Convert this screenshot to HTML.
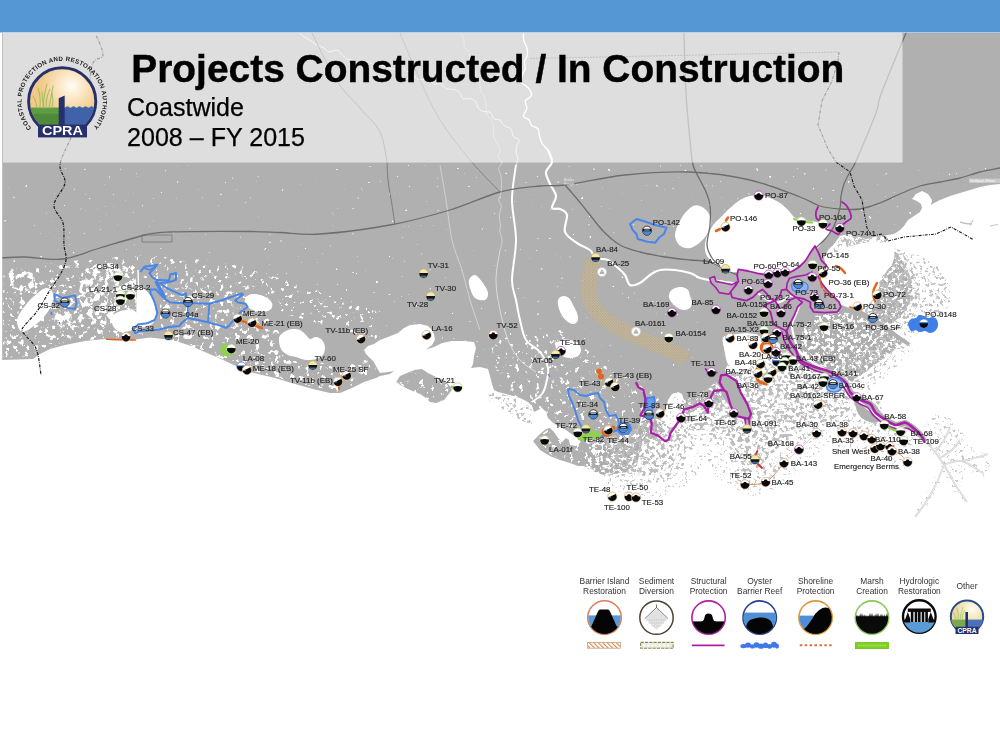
<!DOCTYPE html>
<html><head><meta charset="utf-8">
<style>
html,body{margin:0;padding:0;background:#fff;}
body{width:1000px;height:750px;position:relative;overflow:hidden;font-family:"Liberation Sans",sans-serif;}
#hdr{position:absolute;left:0;top:0;width:1000px;height:32.4px;background:#5596d5;}
#map{position:absolute;left:0;top:0;width:1000px;height:750px;}
text{font-family:"Liberation Sans",sans-serif;}
.lb{font-size:7.9px;fill:#222;stroke:#222;stroke-width:0.15px;}
.lg{font-size:8.4px;fill:#333;text-anchor:middle;}
</style></head><body>
<div id="hdr"></div>
<svg id="map" width="1000" height="750" viewBox="0 0 1000 750">
<defs>
<clipPath id="mapclip"><rect x="2.2" y="33" width="998" height="530"/></clipPath>
<filter id="mDense" x="0" y="0" width="1000" height="750" filterUnits="userSpaceOnUse" color-interpolation-filters="sRGB">
  <feTurbulence type="fractalNoise" baseFrequency="0.26" numOctaves="3" seed="7" result="n"/>
  <feColorMatrix in="n" type="matrix" values="0 0 0 0 0.74  0 0 0 0 0.74  0 0 0 0 0.74  10 0 0 0 -4.85" result="s"/><feGaussianBlur stdDeviation="0.5" result="s2"/>
  <feComposite in="s2" in2="SourceGraphic" operator="in"/>
</filter>
<filter id="mVD" x="0" y="0" width="1000" height="750" filterUnits="userSpaceOnUse" color-interpolation-filters="sRGB">
  <feTurbulence type="fractalNoise" baseFrequency="0.26" numOctaves="3" seed="31" result="n"/>
  <feColorMatrix in="n" type="matrix" values="0 0 0 0 0.68  0 0 0 0 0.68  0 0 0 0 0.68  10 0 0 0 -4.050000000000001" result="s"/><feGaussianBlur stdDeviation="0.35" result="s2"/>
  <feComposite in="s2" in2="SourceGraphic" operator="in"/>
</filter>
<filter id="mMed" x="0" y="0" width="1000" height="750" filterUnits="userSpaceOnUse" color-interpolation-filters="sRGB">
  <feTurbulence type="fractalNoise" baseFrequency="0.3" numOctaves="3" seed="11" result="n"/>
  <feColorMatrix in="n" type="matrix" values="0 0 0 0 0.76  0 0 0 0 0.76  0 0 0 0 0.76  10 0 0 0 -5.550000000000001" result="s"/><feGaussianBlur stdDeviation="0.5" result="s2"/>
  <feComposite in="s2" in2="SourceGraphic" operator="in"/>
</filter>
<filter id="mSparse" x="0" y="0" width="1000" height="750" filterUnits="userSpaceOnUse" color-interpolation-filters="sRGB">
  <feTurbulence type="fractalNoise" baseFrequency="0.34" numOctaves="3" seed="23" result="n"/>
  <feColorMatrix in="n" type="matrix" values="0 0 0 0 0.78  0 0 0 0 0.78  0 0 0 0 0.78  10 0 0 0 -6.25" result="s"/><feGaussianBlur stdDeviation="0.4" result="s2"/>
  <feComposite in="s2" in2="SourceGraphic" operator="in"/>
</filter>
<filter id="wSpeck" x="0" y="0" width="1000" height="750" filterUnits="userSpaceOnUse" color-interpolation-filters="sRGB">
  <feTurbulence type="fractalNoise" baseFrequency="0.25" numOctaves="3" seed="5" result="n"/>
  <feColorMatrix in="n" type="matrix" values="0 0 0 0 1  0 0 0 0 1  0 0 0 0 1  12 0 0 0 -9.36" result="s"/>
  <feComposite in="s" in2="SourceGraphic" operator="in"/>
</filter>
<filter id="wSpeck2" x="0" y="0" width="1000" height="750" filterUnits="userSpaceOnUse" color-interpolation-filters="sRGB">
  <feTurbulence type="fractalNoise" baseFrequency="0.2" numOctaves="3" seed="9" result="n"/>
  <feColorMatrix in="n" type="matrix" values="0 0 0 0 1  0 0 0 0 1  0 0 0 0 1  12 0 0 0 -7.5600000000000005" result="s"/>
  <feComposite in="s" in2="SourceGraphic" operator="in"/>
</filter>
<filter id="wSpeck3" x="0" y="0" width="1000" height="750" filterUnits="userSpaceOnUse" color-interpolation-filters="sRGB">
  <feTurbulence type="fractalNoise" baseFrequency="0.2" numOctaves="3" seed="13" result="n"/>
  <feColorMatrix in="n" type="matrix" values="0 0 0 0 1  0 0 0 0 1  0 0 0 0 1  12 0 0 0 -7.02" result="s"/>
  <feComposite in="s" in2="SourceGraphic" operator="in"/>
</filter>
<filter id="wSpeck4" x="0" y="0" width="1000" height="750" filterUnits="userSpaceOnUse" color-interpolation-filters="sRGB">
  <feTurbulence type="fractalNoise" baseFrequency="0.14" numOctaves="3" seed="17" result="n"/>
  <feColorMatrix in="n" type="matrix" values="0 0 0 0 1  0 0 0 0 1  0 0 0 0 1  12 0 0 0 -6.0" result="s"/>
  <feComposite in="s" in2="SourceGraphic" operator="in"/>
</filter>
</defs>
<rect x="0" y="0" width="1000" height="32.5" fill="#5596d5"/>
<g clip-path="url(#mapclip)">
<g filter="url(#mVD)"><path d="M801.0,318.0 L830.0,311.0 L856.0,310.0 L872.0,319.0 L890.0,330.0 L904.0,340.0 L890.0,354.0 L870.0,368.0 L852.0,382.0 L840.0,377.0 L828.0,370.0 L815.0,364.0 L803.0,350.0 L800.0,340.0Z" fill="#000" />
<path d="M872.0,256.0 L884.0,248.0 L896.0,252.0 L906.0,266.0 L912.0,282.0 L912.0,298.0 L904.0,312.0 L892.0,324.0 L880.0,322.0 L870.0,314.0 L876.0,300.0 L880.0,284.0 L886.0,272.0 L880.0,262.0Z" fill="#000" />
<path d="M584.0,440.0 L600.0,438.0 L620.0,432.0 L640.0,422.0 L650.0,418.0 L660.0,422.0 L664.0,432.0 L650.0,442.0 L630.0,448.0 L612.0,452.0 L606.0,446.0 L592.0,444.0Z" fill="#000" />
<path d="M684.0,400.0 L700.0,394.0 L716.0,384.0 L724.0,400.0 L712.0,408.0 L698.0,410.0 L686.0,414.0Z" fill="#000" />
<path d="M578.0,440.0 L600.0,438.0 L628.0,436.0 L642.0,444.0 L638.0,460.0 L626.0,472.0 L606.0,476.0 L590.0,470.0 L584.0,466.0 L588.0,456.0Z" fill="#000" />
</g>
<g filter="url(#mDense)"><path d="M584.0,440.0 L600.0,438.0 L620.0,432.0 L640.0,422.0 L646.0,410.0 L660.0,420.0 L672.0,424.0 L684.0,420.0 L684.0,400.0 L716.0,382.0 L722.0,396.0 L734.0,414.0 L748.0,426.0 L750.0,440.0 L752.0,456.0 L752.0,472.0 L750.0,484.0 L744.0,486.0 L741.0,470.0 L737.0,452.0 L728.0,440.0 L716.0,432.0 L700.0,430.0 L688.0,436.0 L680.0,446.0 L676.0,458.0 L670.0,468.0 L658.0,474.0 L644.0,476.0 L630.0,474.0 L618.0,468.0 L612.0,460.0 L612.0,452.0 L606.0,446.0 L592.0,444.0Z" fill="#000" />
<path d="M722.0,338.0 L760.0,334.0 L794.0,354.0 L830.0,380.0 L850.0,394.0 L850.0,410.0 L830.0,420.0 L810.0,426.0 L796.0,434.0 L780.0,446.0 L766.0,460.0 L756.0,470.0 L752.0,440.0 L752.0,418.0 L740.0,394.0 L728.0,370.0 L726.0,350.0Z" fill="#000" />
<path d="M852.0,398.0 L880.0,400.0 L884.0,420.0 L870.0,424.0 L858.0,414.0Z" fill="#000" />
<path d="M872.0,252.0 L886.0,246.0 L900.0,250.0 L910.0,264.0 L918.0,282.0 L920.0,300.0 L912.0,318.0 L898.0,330.0 L884.0,328.0 L872.0,320.0 L864.0,312.0 L872.0,300.0 L878.0,284.0 L884.0,272.0 L880.0,260.0Z" fill="#000" />
<path d="M840.0,238.0 L850.0,234.0 L866.0,239.0 L880.0,236.0 L892.0,235.0 L884.0,244.0 L872.0,250.0 L858.0,250.0 L846.0,246.0Z" fill="#000" />
</g>
<g filter="url(#mMed)"><path d="M488.0,392.0 L506.0,395.0 L524.0,402.0 L534.0,412.0 L532.0,424.0 L518.0,420.0 L502.0,410.0 L490.0,402.0Z" fill="#000" />
<path d="M606.0,446.0 L616.0,468.0 L640.0,478.0 L664.0,474.0 L676.0,458.0 L690.0,436.0 L716.0,432.0 L736.0,452.0 L742.0,486.0 L750.0,488.0 L756.0,470.0 L790.0,444.0 L812.0,426.0 L850.0,410.0 L864.0,402.0 L880.0,424.0 L900.0,430.0 L916.0,440.0 L906.0,450.0 L890.0,440.0 L870.0,436.0 L850.0,430.0 L830.0,428.0 L812.0,436.0 L798.0,450.0 L784.0,464.0 L766.0,482.0 L748.0,490.0 L738.0,482.0 L730.0,460.0 L718.0,444.0 L700.0,440.0 L690.0,452.0 L684.0,468.0 L670.0,480.0 L650.0,486.0 L630.0,486.0 L612.0,476.0 L604.0,462.0Z" fill="#000" />
<path d="M830.0,246.0 L840.0,240.0 L856.0,238.0 L870.0,244.0 L866.0,254.0 L852.0,262.0 L840.0,268.0 L830.0,264.0 L826.0,256.0Z" fill="#000" />
<path d="M900.0,250.0 L920.0,256.0 L940.0,268.0 L950.0,286.0 L950.0,304.0 L940.0,318.0 L924.0,330.0 L908.0,338.0 L898.0,330.0 L912.0,318.0 L920.0,300.0 L918.0,282.0 L910.0,264.0Z" fill="#000" />
<path d="M832.0,370.0 L850.0,358.0 L870.0,345.0 L890.0,330.0 L900.0,336.0 L908.0,344.0 L896.0,356.0 L880.0,370.0 L866.0,384.0 L858.0,392.0 L850.0,386.0 L840.0,378.0Z" fill="#000" />
</g>
<g filter="url(#mSparse)"><path d="M900.0,336.0 L912.0,342.0 L914.0,350.0 L900.0,364.0 L884.0,378.0 L870.0,392.0 L862.0,400.0 L858.0,392.0 L866.0,384.0 L880.0,370.0 L896.0,356.0 L908.0,344.0Z" fill="#000" />
<path d="M926.0,424.0 L936.0,414.0 L950.0,418.0 L962.0,430.0 L968.0,446.0 L984.0,452.0 L990.0,464.0 L984.0,478.0 L968.0,472.0 L962.0,480.0 L968.0,500.0 L960.0,502.0 L950.0,484.0 L944.0,474.0 L936.0,494.0 L920.0,516.0 L914.0,514.0 L928.0,490.0 L938.0,470.0 L930.0,452.0 L924.0,440.0Z" fill="#000" />
<path d="M730.0,470.0 L748.0,490.0 L766.0,482.0 L790.0,462.0 L810.0,440.0 L830.0,430.0 L860.0,436.0 L880.0,444.0 L900.0,456.0 L912.0,466.0 L900.0,470.0 L880.0,460.0 L850.0,448.0 L830.0,446.0 L812.0,456.0 L794.0,474.0 L774.0,490.0 L752.0,496.0 L736.0,490.0Z" fill="#000" />
<path d="M600.0,462.0 L612.0,478.0 L632.0,490.0 L656.0,490.0 L676.0,482.0 L690.0,466.0 L700.0,444.0 L716.0,444.0 L728.0,462.0 L736.0,486.0 L720.0,480.0 L706.0,462.0 L694.0,478.0 L680.0,490.0 L656.0,498.0 L630.0,498.0 L608.0,486.0Z" fill="#000" />
<path d="M656.0,394.0 L666.0,392.0 L678.0,392.0 L684.0,400.0 L684.0,420.0 L672.0,424.0 L660.0,420.0 L664.0,408.0Z" fill="#000" />
</g>
<path d="M2.0,33.0 L1000.0,33.0 L1000.0,184.0 L990.0,185.0 L980.0,187.0 L970.0,190.0 L960.0,193.0 L950.0,196.0 L940.0,200.0 L934.0,203.0 L931.0,205.0 L932.0,200.0 L928.0,194.0 L922.0,191.0 L916.0,194.0 L912.0,199.0 L917.0,201.0 L921.0,204.0 L922.0,208.0 L920.0,212.0 L914.0,216.0 L908.0,220.0 L904.0,226.0 L900.0,230.0 L894.0,234.0 L888.0,235.0 L880.0,236.0 L874.0,237.0 L866.0,239.0 L856.0,236.0 L848.0,234.0 L840.0,236.0 L834.0,244.0 L828.0,250.0 L824.0,258.0 L826.0,266.0 L824.0,272.0 L820.0,278.0 L822.0,286.0 L826.0,292.0 L832.0,298.0 L840.0,303.0 L848.0,306.0 L856.0,308.0 L866.0,313.0 L876.0,319.0 L888.0,327.0 L900.0,336.0 L910.0,343.0 L908.0,346.0 L896.0,338.0 L884.0,330.0 L872.0,323.0 L860.0,316.0 L848.0,313.0 L838.0,312.0 L826.0,313.0 L815.0,316.0 L808.0,322.0 L803.0,330.0 L801.0,340.0 L803.0,350.0 L802.4,357.8 L813.9,363.5 L826.5,367.2 L837.0,372.5 L847.7,380.6 L852.8,390.6 L862.0,397.4 L872.4,401.7 L877.7,410.6 L887.2,417.4 L896.0,422.0 L906.1,419.7 L914.9,425.4 L923.0,433.1 L927.0,440.0 L921.4,443.2 L918.0,437.2 L910.8,430.4 L905.1,426.2 L895.1,428.5 L883.8,423.0 L873.0,415.1 L868.2,406.7 L858.8,403.0 L847.9,394.9 L842.7,384.9 L833.5,378.0 L824.1,373.3 L811.5,369.6 L797.9,362.5 L794.0,355.0 L786.0,350.0 L780.0,344.0 L772.0,340.0 L764.0,336.0 L756.0,334.0 L746.0,333.0 L736.0,334.0 L726.0,336.0 L722.0,338.0 L724.0,348.0 L726.0,358.0 L728.0,364.0 L725.0,370.0 L730.0,378.0 L735.0,386.0 L740.0,394.0 L746.0,402.0 L750.0,410.0 L752.0,418.0 L750.0,426.0 L745.0,421.0 L738.0,414.0 L732.0,408.0 L726.0,402.0 L722.0,396.0 L720.0,388.0 L716.0,382.0 L708.0,388.0 L700.0,394.0 L692.0,398.0 L684.0,400.0 L682.0,394.0 L678.0,392.0 L672.0,394.0 L668.0,400.0 L666.0,408.0 L664.0,416.0 L660.0,420.0 L654.0,418.0 L648.0,414.0 L644.0,408.0 L640.0,406.0 L642.0,414.0 L640.0,422.0 L634.0,427.0 L628.0,430.0 L620.0,433.0 L612.0,436.0 L600.0,438.0 L590.0,440.0 L582.0,440.0 L576.0,437.0 L570.0,433.0 L566.0,430.0 L558.0,426.0 L552.0,422.0 L548.0,418.0 L546.0,412.0 L542.0,408.0 L538.0,410.0 L534.0,412.0 L532.0,406.0 L528.0,402.0 L520.0,398.0 L506.0,394.0 L498.0,392.0 L494.0,390.0 L492.0,384.0 L490.0,376.0 L488.0,369.0 L480.0,367.0 L471.0,368.0 L473.0,364.0 L474.0,356.0 L476.0,348.0 L474.0,342.0 L464.0,341.0 L452.0,341.0 L442.0,343.0 L434.0,347.0 L426.0,349.6 L432.0,345.0 L435.0,340.0 L434.0,334.0 L432.0,330.0 L428.0,326.0 L420.0,324.0 L410.0,325.0 L404.0,328.0 L398.0,333.0 L388.0,337.0 L380.0,340.0 L374.0,344.0 L368.0,346.0 L364.0,350.0 L366.0,354.0 L370.0,358.0 L374.0,362.0 L377.0,368.0 L380.0,373.0 L388.0,372.0 L394.0,371.0 L390.0,374.0 L380.0,376.0 L376.0,378.0 L364.0,382.0 L352.0,388.0 L340.0,393.0 L330.0,393.0 L313.0,389.0 L295.0,384.0 L275.0,378.0 L250.0,372.0 L236.0,366.0 L221.0,359.0 L206.0,352.6 L191.0,346.0 L176.0,341.0 L163.0,339.0 L150.0,337.6 L135.0,339.6 L105.0,339.0 L85.0,341.0 L65.0,345.0 L50.0,349.0 L40.0,354.0 L33.0,359.0 L2.0,360.0Z" fill="#b0b0b0" />
<path d="M396.0,382.0 L400.0,376.0 L414.0,370.0 L422.0,369.0 L428.0,373.0 L436.0,377.0 L444.0,380.0 L450.0,386.0 L452.0,390.0 L448.0,395.0 L444.0,400.0 L436.0,403.0 L430.0,402.0 L426.0,398.0 L420.0,394.0 L410.0,390.0 L402.0,386.0Z" fill="#b0b0b0" />
<path d="M533.0,441.0 L540.0,434.0 L546.0,429.0 L550.0,428.0 L554.0,432.0 L558.0,438.0 L562.0,442.0 L566.0,438.0 L569.0,440.0 L570.0,445.0 L576.0,446.0 L580.0,443.0 L584.0,441.0 L588.0,444.0 L590.0,450.0 L588.0,456.0 L586.0,462.0 L584.0,466.0 L578.0,466.0 L570.0,463.0 L560.0,460.0 L550.0,456.0 L540.0,450.0Z" fill="#b0b0b0" />
<path d="M856.0,402.0 C857.2,400.0 861.3,399.0 864.0,399.0 C866.7,399.0 869.7,400.5 872.0,402.0 C874.3,403.5 876.5,405.7 878.0,408.0 C879.5,410.3 881.0,413.7 881.0,416.0 C881.0,418.3 879.8,421.0 878.0,422.0 C876.2,423.0 872.7,422.7 870.0,422.0 C867.3,421.3 864.2,419.8 862.0,418.0 C859.8,416.2 858.0,413.7 857.0,411.0 C856.0,408.3 854.8,404.0 856.0,402.0Z" fill="#b0b0b0" />
<path d="M469.0,280.0 C469.8,277.8 472.7,274.5 475.0,275.0 C477.3,275.5 480.8,280.0 483.0,283.0 C485.2,286.0 487.7,290.2 488.0,293.0 C488.3,295.8 487.2,299.2 485.0,300.0 C482.8,300.8 477.5,300.0 475.0,298.0 C472.5,296.0 471.0,291.0 470.0,288.0 C469.0,285.0 468.2,282.2 469.0,280.0Z" fill="#fff" />
<path d="M706.0,254.0 C704.8,251.0 704.7,247.3 705.0,244.0 C705.3,240.7 706.5,237.3 708.0,234.0 C709.5,230.7 711.7,227.0 714.0,224.0 C716.3,221.0 719.3,218.7 722.0,216.0 C724.7,213.3 727.0,210.7 730.0,208.0 C733.0,205.3 736.7,202.0 740.0,200.0 C743.3,198.0 746.7,196.8 750.0,196.0 C753.3,195.2 756.7,194.7 760.0,195.0 C763.3,195.3 766.7,196.7 770.0,198.0 C773.3,199.3 777.0,201.0 780.0,203.0 C783.0,205.0 785.7,207.7 788.0,210.0 C790.3,212.3 792.0,215.3 794.0,217.0 C796.0,218.7 797.3,219.3 800.0,220.0 C802.7,220.7 806.7,220.5 810.0,221.0 C813.3,221.5 817.0,221.8 820.0,223.0 C823.0,224.2 826.3,226.3 828.0,228.0 C829.7,229.7 830.7,231.0 830.0,233.0 C829.3,235.0 826.0,237.5 824.0,240.0 C822.0,242.5 820.0,245.7 818.0,248.0 C816.0,250.3 814.3,251.7 812.0,254.0 C809.7,256.3 806.7,259.7 804.0,262.0 C801.3,264.3 798.7,266.3 796.0,268.0 C793.3,269.7 790.7,271.0 788.0,272.0 C785.3,273.0 783.3,273.5 780.0,274.0 C776.7,274.5 772.0,275.2 768.0,275.0 C764.0,274.8 760.0,273.7 756.0,273.0 C752.0,272.3 747.3,271.2 744.0,271.0 C740.7,270.8 738.7,271.8 736.0,272.0 C733.3,272.2 730.7,272.7 728.0,272.0 C725.3,271.3 722.7,269.7 720.0,268.0 C717.3,266.3 714.3,264.3 712.0,262.0 C709.7,259.7 707.2,257.0 706.0,254.0Z" fill="#fff" />
<path d="M675.0,234.0 C675.3,230.8 677.3,226.5 679.0,223.0 C680.7,219.5 682.7,215.8 685.0,213.0 C687.3,210.2 690.5,207.2 693.0,206.0 C695.5,204.8 697.7,205.2 700.0,206.0 C702.3,206.8 705.2,208.8 707.0,211.0 C708.8,213.2 710.5,216.2 711.0,219.0 C711.5,221.8 711.0,225.0 710.0,228.0 C709.0,231.0 707.0,234.3 705.0,237.0 C703.0,239.7 700.5,242.2 698.0,244.0 C695.5,245.8 692.7,247.5 690.0,248.0 C687.3,248.5 684.2,248.0 682.0,247.0 C679.8,246.0 678.2,244.2 677.0,242.0 C675.8,239.8 674.7,237.2 675.0,234.0Z" fill="#fff" />
<path d="M138.0,287.0 C139.2,285.2 142.0,287.7 144.0,289.0 C146.0,290.3 148.3,292.7 150.0,295.0 C151.7,297.3 153.0,300.0 154.0,303.0 C155.0,306.0 156.0,309.8 156.0,313.0 C156.0,316.2 155.3,319.8 154.0,322.0 C152.7,324.2 150.2,325.2 148.0,326.0 C145.8,326.8 142.8,327.8 141.0,327.0 C139.2,326.2 137.8,325.5 137.0,321.0 C136.2,316.5 136.3,305.7 136.5,300.0 C136.7,294.3 136.8,288.8 138.0,287.0Z" fill="#fff" />
<path d="M116.0,313.0 C118.3,311.7 122.7,310.2 126.0,310.0 C129.3,309.8 133.8,310.0 136.0,312.0 C138.2,314.0 139.7,319.0 139.0,322.0 C138.3,325.0 135.2,328.3 132.0,330.0 C128.8,331.7 123.2,332.7 120.0,332.0 C116.8,331.3 114.3,328.3 113.0,326.0 C111.7,323.7 111.5,320.2 112.0,318.0 C112.5,315.8 113.7,314.3 116.0,313.0Z" fill="#fff" />
<path d="M19.0,329.0 C18.0,327.0 16.5,323.2 17.0,320.0 C17.5,316.8 19.8,313.3 22.0,310.0 C24.2,306.7 27.2,303.0 30.0,300.0 C32.8,297.0 36.3,294.0 39.0,292.0 C41.7,290.0 43.8,288.2 46.0,288.0 C48.2,287.8 50.8,289.0 52.0,291.0 C53.2,293.0 53.5,296.8 53.0,300.0 C52.5,303.2 51.0,306.7 49.0,310.0 C47.0,313.3 44.0,317.0 41.0,320.0 C38.0,323.0 34.0,326.0 31.0,328.0 C28.0,330.0 25.0,331.8 23.0,332.0 C21.0,332.2 20.0,331.0 19.0,329.0Z" fill="#fff" />
<path d="M246.0,297.0 C247.2,295.5 249.7,294.3 252.0,294.0 C254.3,293.7 257.5,294.3 260.0,295.0 C262.5,295.7 265.0,296.7 267.0,298.0 C269.0,299.3 271.3,301.2 272.0,303.0 C272.7,304.8 272.3,307.5 271.0,309.0 C269.7,310.5 266.5,311.7 264.0,312.0 C261.5,312.3 258.5,311.7 256.0,311.0 C253.5,310.3 250.8,309.3 249.0,308.0 C247.2,306.7 245.5,304.8 245.0,303.0 C244.5,301.2 244.8,298.5 246.0,297.0Z" fill="#fff" />
<path d="M279.0,338.0 C279.5,335.2 281.8,333.5 284.0,332.0 C286.2,330.5 289.3,329.3 292.0,329.0 C294.7,328.7 297.7,329.0 300.0,330.0 C302.3,331.0 304.3,333.5 306.0,335.0 C307.7,336.5 308.3,338.7 310.0,339.0 C311.7,339.3 314.0,336.8 316.0,337.0 C318.0,337.2 320.5,338.3 322.0,340.0 C323.5,341.7 324.8,344.5 325.0,347.0 C325.2,349.5 324.5,353.0 323.0,355.0 C321.5,357.0 318.8,358.2 316.0,359.0 C313.2,359.8 309.3,360.3 306.0,360.0 C302.7,359.7 299.0,357.8 296.0,357.0 C293.0,356.2 290.5,356.3 288.0,355.0 C285.5,353.7 282.5,351.8 281.0,349.0 C279.5,346.2 278.5,340.8 279.0,338.0Z" fill="#fff" />
<path d="M723.0,338.0 C723.8,335.3 727.2,336.3 730.0,336.0 C732.8,335.7 736.7,335.7 740.0,336.0 C743.3,336.3 747.0,337.0 750.0,338.0 C753.0,339.0 756.0,340.0 758.0,342.0 C760.0,344.0 761.7,347.3 762.0,350.0 C762.3,352.7 761.0,355.7 760.0,358.0 C759.0,360.3 758.0,362.3 756.0,364.0 C754.0,365.7 750.7,367.0 748.0,368.0 C745.3,369.0 742.7,370.0 740.0,370.0 C737.3,370.0 734.2,369.3 732.0,368.0 C729.8,366.7 728.2,364.7 727.0,362.0 C725.8,359.3 725.7,356.0 725.0,352.0 C724.3,348.0 722.2,340.7 723.0,338.0Z" fill="#fff" />
<path d="M670.0,292.0 C671.0,290.3 673.0,288.8 675.0,288.0 C677.0,287.2 679.8,286.7 682.0,287.0 C684.2,287.3 686.7,288.5 688.0,290.0 C689.3,291.5 689.3,294.0 690.0,296.0 C690.7,298.0 692.0,300.0 692.0,302.0 C692.0,304.0 691.3,306.7 690.0,308.0 C688.7,309.3 686.0,310.0 684.0,310.0 C682.0,310.0 679.8,309.0 678.0,308.0 C676.2,307.0 674.5,305.7 673.0,304.0 C671.5,302.3 669.5,300.0 669.0,298.0 C668.5,296.0 669.0,293.7 670.0,292.0Z" fill="#fff" />
<path d="M558.0,300.0 C558.7,297.8 561.2,296.3 563.0,296.0 C564.8,295.7 567.3,296.5 569.0,298.0 C570.7,299.5 571.7,302.5 573.0,305.0 C574.3,307.5 576.2,310.5 577.0,313.0 C577.8,315.5 578.5,318.2 578.0,320.0 C577.5,321.8 575.7,323.7 574.0,324.0 C572.3,324.3 569.8,323.2 568.0,322.0 C566.2,320.8 564.5,319.2 563.0,317.0 C561.5,314.8 559.8,311.8 559.0,309.0 C558.2,306.2 557.3,302.2 558.0,300.0Z" fill="#fff" />
<path d="M556.0,344.0 C556.8,342.2 559.7,340.7 562.0,340.0 C564.3,339.3 567.3,339.5 570.0,340.0 C572.7,340.5 576.2,341.3 578.0,343.0 C579.8,344.7 581.0,347.8 581.0,350.0 C581.0,352.2 579.8,354.7 578.0,356.0 C576.2,357.3 572.7,358.0 570.0,358.0 C567.3,358.0 564.2,357.2 562.0,356.0 C559.8,354.8 558.0,353.0 557.0,351.0 C556.0,349.0 555.2,345.8 556.0,344.0Z" fill="#fff" />
<path d="M826.0,262.0 C828.0,259.3 830.7,256.3 834.0,254.0 C837.3,251.7 842.0,249.7 846.0,248.0 C850.0,246.3 853.7,245.0 858.0,244.0 C862.3,243.0 867.3,242.0 872.0,242.0 C876.7,242.0 882.3,242.3 886.0,244.0 C889.7,245.7 893.0,248.7 894.0,252.0 C895.0,255.3 893.7,260.3 892.0,264.0 C890.3,267.7 886.3,270.7 884.0,274.0 C881.7,277.3 879.3,280.7 878.0,284.0 C876.7,287.3 877.3,291.0 876.0,294.0 C874.7,297.0 872.3,299.7 870.0,302.0 C867.7,304.3 865.3,307.0 862.0,308.0 C858.7,309.0 853.7,308.7 850.0,308.0 C846.3,307.3 843.3,305.7 840.0,304.0 C836.7,302.3 832.7,300.3 830.0,298.0 C827.3,295.7 825.7,293.0 824.0,290.0 C822.3,287.0 820.3,283.3 820.0,280.0 C819.7,276.7 821.0,273.0 822.0,270.0 C823.0,267.0 824.0,264.7 826.0,262.0Z" fill="#fff" />
<path d="M138.0,270.0 L138.5,288.0" fill="none" stroke="#fff" stroke-width="1.4" />
<g filter="url(#wSpeck4)"><path d="M8.0,272.0 L20.0,268.0 L34.0,274.0 L36.0,286.0 L24.0,292.0 L12.0,288.0Z" fill="#000" />
<path d="M84.0,268.0 L100.0,262.0 L120.0,264.0 L136.0,272.0 L136.0,310.0 L116.0,312.0 L110.0,326.0 L96.0,322.0 L84.0,312.0 L78.0,296.0Z" fill="#000" />
<path d="M56.0,306.0 L74.0,302.0 L84.0,312.0 L80.0,326.0 L64.0,330.0 L54.0,322.0Z" fill="#000" />
</g>
<g filter="url(#wSpeck3)"><path d="M3.0,300.0 L30.0,282.0 L70.0,276.0 L110.0,268.0 L135.0,272.0 L137.0,300.0 L136.0,326.0 L150.0,336.0 L105.0,338.0 L60.0,344.0 L30.0,356.0 L3.0,358.0Z" fill="#000" />
<path d="M160.0,280.0 L200.0,290.0 L240.0,292.0 L244.0,306.0 L270.0,318.0 L280.0,334.0 L278.0,350.0 L290.0,360.0 L320.0,362.0 L340.0,370.0 L360.0,360.0 L372.0,350.0 L376.0,372.0 L340.0,392.0 L300.0,384.0 L250.0,370.0 L200.0,350.0 L164.0,338.0 L160.0,320.0Z" fill="#000" />
</g>
<g filter="url(#wSpeck2)"><path d="M3.0,270.0 L60.0,262.0 L140.0,255.0 L230.0,262.0 L300.0,285.0 L380.0,310.0 L380.0,340.0 L160.0,280.0 L60.0,280.0 L3.0,300.0Z" fill="#000" />
<path d="M490.0,340.0 L560.0,330.0 L600.0,360.0 L640.0,380.0 L660.0,400.0 L600.0,436.0 L550.0,420.0 L500.0,388.0Z" fill="#000" />
<path d="M396.0,382.0 L414.0,370.0 L428.0,373.0 L450.0,386.0 L444.0,400.0 L430.0,402.0Z" fill="#000" />
<path d="M533.0,441.0 L550.0,428.0 L566.0,438.0 L600.0,448.0 L616.0,460.0 L584.0,466.0 L550.0,456.0Z" fill="#000" />
<path d="M720.0,380.0 L752.0,418.0 L740.0,394.0 L730.0,378.0Z" fill="#000" />
</g>
<g filter="url(#wSpeck)"><path d="M3.0,165.0 L1000.0,165.0 L1000.0,185.0 L880.0,236.0 L700.0,260.0 L700.0,380.0 L500.0,388.0 L380.0,330.0 L300.0,285.0 L140.0,255.0 L3.0,270.0Z" fill="#000" />
</g>
<path d="M548.0,150.0 C548.7,152.0 552.3,158.3 552.0,162.0 C551.7,165.7 546.3,168.3 546.0,172.0 C545.7,175.7 548.3,180.0 550.0,184.0 C551.7,188.0 555.7,192.0 556.0,196.0 C556.3,200.0 551.3,205.8 552.0,208.0 C552.7,210.2 557.5,207.8 560.0,209.0 C562.5,210.2 566.2,211.2 567.0,215.0 C567.8,218.8 563.3,227.3 565.0,232.0 C566.7,236.7 572.8,240.0 577.0,243.0 C581.2,246.0 586.8,247.5 590.0,250.0 C593.2,252.5 593.0,256.3 596.0,258.0 C599.0,259.7 604.3,258.3 608.0,260.0 C611.7,261.7 615.2,265.5 618.0,268.0 C620.8,270.5 623.0,272.2 625.0,275.0 C627.0,277.8 627.5,283.7 630.0,285.0 C632.5,286.3 636.7,284.7 640.0,283.0 C643.3,281.3 646.7,277.2 650.0,275.0 C653.3,272.8 655.8,270.8 660.0,270.0 C664.2,269.2 670.0,269.5 675.0,270.0 C680.0,270.5 685.8,271.7 690.0,273.0 C694.2,274.3 696.7,276.8 700.0,278.0 C703.3,279.2 705.8,279.3 710.0,280.0 C714.2,280.7 720.0,281.2 725.0,282.0 C730.0,282.8 734.8,283.3 740.0,285.0 C745.2,286.7 751.3,289.5 756.0,292.0 C760.7,294.5 764.0,298.3 768.0,300.0 C772.0,301.7 776.3,302.7 780.0,302.0 C783.7,301.3 786.7,296.3 790.0,296.0 C793.3,295.7 798.8,297.3 800.0,300.0 C801.2,302.7 798.3,307.8 797.0,312.0 C795.7,316.2 792.3,320.3 792.0,325.0 C791.7,329.7 793.7,335.5 795.0,340.0 C796.3,344.5 797.2,348.3 800.0,352.0 C802.8,355.7 807.7,359.0 812.0,362.0 C816.3,365.0 821.3,367.0 826.0,370.0 C830.7,373.0 835.7,376.0 840.0,380.0 C844.3,384.0 848.3,390.0 852.0,394.0 C855.7,398.0 858.2,400.7 862.0,404.0 C865.8,407.3 870.3,410.7 875.0,414.0 C879.7,417.3 885.0,421.3 890.0,424.0 C895.0,426.7 900.0,427.3 905.0,430.0 C910.0,432.7 915.8,436.3 920.0,440.0 C924.2,443.7 927.0,447.3 930.0,452.0 C933.0,456.7 935.5,462.5 938.0,468.0 C940.5,473.5 943.8,482.2 945.0,485.0" fill="none" stroke="#fff" stroke-width="2.2" />
<path d="M516.0,165.0 C515.3,170.8 512.0,187.5 512.0,200.0 C512.0,212.5 516.0,226.7 516.0,240.0 C516.0,253.3 512.0,270.0 512.0,280.0 C512.0,290.0 514.7,293.3 516.0,300.0 C517.3,306.7 518.3,313.3 520.0,320.0 C521.7,326.7 522.7,334.7 526.0,340.0 C529.3,345.3 536.3,347.3 540.0,352.0 C543.7,356.7 547.0,362.7 548.0,368.0 C549.0,373.3 547.0,379.7 546.0,384.0 C545.0,388.3 544.3,391.0 542.0,394.0 C539.7,397.0 533.7,400.7 532.0,402.0" fill="none" stroke="#fff" stroke-width="2.0" />
<path d="M500.0,250.0 C499.3,255.0 496.0,270.0 496.0,280.0 C496.0,290.0 498.0,300.0 500.0,310.0 C502.0,320.0 504.7,331.7 508.0,340.0 C511.3,348.3 515.3,354.7 520.0,360.0 C524.7,365.3 533.3,370.0 536.0,372.0" fill="none" stroke="#fff" stroke-width="0.8" stroke-opacity="0.7"/>
<path d="M440.0,165.0 C441.0,170.8 444.0,187.5 446.0,200.0 C448.0,212.5 449.3,228.3 452.0,240.0 C454.7,251.7 459.0,260.0 462.0,270.0 C465.0,280.0 467.0,290.0 470.0,300.0 C473.0,310.0 478.3,325.0 480.0,330.0" fill="none" stroke="#fff" stroke-width="0.7" stroke-opacity="0.6"/>
<path d="M0.0,258.0 C4.2,257.8 14.5,256.8 25.0,257.0 C35.5,257.2 50.5,260.5 63.0,259.0 C75.5,257.5 86.3,252.0 100.0,248.0 C113.7,244.0 133.3,237.7 145.0,235.0 C156.7,232.3 152.5,232.6 170.0,232.0 C187.5,231.4 231.7,231.4 250.0,231.5 C268.3,231.6 268.3,232.1 280.0,232.5 C291.7,232.9 301.7,235.2 320.0,234.0 C338.3,232.8 368.3,229.0 390.0,225.0 C411.7,221.0 431.7,215.5 450.0,210.0 C468.3,204.5 485.0,196.0 500.0,192.0 C515.0,188.0 529.2,187.2 540.0,186.0 C550.8,184.8 550.8,186.8 565.0,185.0 C579.2,183.2 604.2,177.2 625.0,175.0 C645.8,172.8 669.2,171.2 690.0,172.0 C710.8,172.8 731.7,175.8 750.0,180.0 C768.3,184.2 788.3,192.7 800.0,197.0 C811.7,201.3 813.3,204.0 820.0,206.0 C826.7,208.0 833.3,208.5 840.0,209.0 C846.7,209.5 853.3,210.0 860.0,209.0 C866.7,208.0 873.3,205.5 880.0,203.0 C886.7,200.5 893.3,196.8 900.0,194.0 C906.7,191.2 913.3,188.0 920.0,186.0 C926.7,184.0 933.3,183.3 940.0,182.0 C946.7,180.7 953.3,179.7 960.0,178.0 C966.7,176.3 973.3,173.7 980.0,172.0 C986.7,170.3 996.7,168.7 1000.0,168.0" fill="none" stroke="#6e6e6e" stroke-width="1.3" />
<path d="M565.0,185.0 C567.2,187.5 573.8,195.0 578.0,200.0 C582.2,205.0 585.7,209.7 590.0,215.0 C594.3,220.3 599.0,227.0 604.0,232.0 C609.0,237.0 614.0,241.7 620.0,245.0 C626.0,248.3 632.5,250.0 640.0,252.0 C647.5,254.0 656.7,255.7 665.0,257.0 C673.3,258.3 682.5,259.2 690.0,260.0 C697.5,260.8 704.2,260.3 710.0,262.0 C715.8,263.7 720.0,267.7 725.0,270.0 C730.0,272.3 737.5,275.0 740.0,276.0" fill="none" stroke="#6e6e6e" stroke-width="1.3" />
<path d="M684.0,33.0 C684.3,43.0 685.0,75.2 686.0,93.0 C687.0,110.8 688.8,128.0 690.0,140.0 C691.2,152.0 691.3,158.3 693.0,165.0 C694.7,171.7 697.8,175.5 700.0,180.0 C702.2,184.5 704.3,187.8 706.0,192.0 C707.7,196.2 709.3,199.5 710.0,205.0 C710.7,210.5 710.5,218.3 710.0,225.0 C709.5,231.7 706.7,239.5 707.0,245.0 C707.3,250.5 709.8,254.5 712.0,258.0 C714.2,261.5 718.7,264.7 720.0,266.0" fill="none" stroke="#6e6e6e" stroke-width="1.3" />
<path d="M906.0,33.0 C904.3,37.0 900.3,46.3 896.0,57.0 C891.7,67.7 883.3,87.7 880.0,97.0 C876.7,106.3 880.0,102.3 876.0,113.0 C872.0,123.7 860.3,151.2 856.0,161.0 C851.7,170.8 852.0,168.2 850.0,172.0 C848.0,175.8 845.5,180.0 844.0,184.0 C842.5,188.0 841.7,192.0 841.0,196.0 C840.3,200.0 841.2,203.0 840.0,208.0 C838.8,213.0 836.3,221.0 834.0,226.0 C831.7,231.0 829.0,234.3 826.0,238.0 C823.0,241.7 819.0,244.7 816.0,248.0 C813.0,251.3 809.3,256.3 808.0,258.0" fill="none" stroke="#6e6e6e" stroke-width="1.3" />
<path d="M387.0,162.0 C387.2,165.0 387.2,172.8 388.0,180.0 C388.8,187.2 390.8,197.5 392.0,205.0 C393.2,212.5 394.5,221.7 395.0,225.0" fill="none" stroke="#6e6e6e" stroke-width="0.8" />
<path d="M142.0,235.0 L172.0,235.0 L172.0,242.0 L142.0,242.0 L142.0,235.0" fill="none" stroke="#6e6e6e" stroke-width="0.7" />
<path d="M96.5,36.0 C97.6,39.2 103.6,50.5 103.0,55.0 C102.4,59.5 95.5,57.2 93.0,63.0 C90.5,68.8 90.2,80.5 88.0,90.0 C85.8,99.5 83.0,111.7 80.0,120.0 C77.0,128.3 73.3,132.5 70.0,140.0 C66.7,147.5 60.8,157.8 60.0,165.0 C59.2,172.2 66.0,176.3 65.0,183.0 C64.0,189.7 54.3,198.3 54.0,205.0 C53.7,211.7 61.3,216.3 63.0,223.0 C64.7,229.7 63.5,238.8 64.0,245.0 C64.5,251.2 66.7,255.0 66.0,260.0 C65.3,265.0 62.7,270.0 60.0,275.0 C57.3,280.0 53.7,284.2 50.0,290.0 C46.3,295.8 42.2,304.2 38.0,310.0 C33.8,315.8 27.7,321.7 25.0,325.0 C22.3,328.3 22.0,328.3 22.0,330.0 C22.0,331.7 23.0,332.5 25.0,335.0 C27.0,337.5 31.8,341.7 34.0,345.0 C36.2,348.3 36.8,350.0 38.0,355.0 C39.2,360.0 40.5,371.7 41.0,375.0" fill="none" stroke="#1a1a1a" stroke-width="1.2" stroke-dasharray="3 1.2 0.8 1.2"/>
<path d="M839.0,52.0 L838.0,61.0 L832.0,81.0 L822.0,101.0 L818.0,125.0 L828.0,149.0 L836.0,162.0 L850.0,172.0 L854.0,186.0 L862.0,200.0 L864.0,212.0 L867.0,228.0 L872.0,236.0 L882.0,234.0 L888.0,241.0 L904.0,237.0 L936.0,234.0 L951.0,227.0 L973.0,239.4" fill="none" stroke="#1a1a1a" stroke-width="1.1" stroke-dasharray="3 1.2 0.8 1.2"/>
<path d="M530.0,58.5 L700.0,55.0 L839.0,52.0" fill="none" stroke="#444" stroke-width="0.6" stroke-dasharray="2 1"/>
<path d="M926.0,442.0 C927.5,443.7 932.0,448.2 935.0,452.0 C938.0,455.8 942.5,462.8 944.0,465.0" fill="none" stroke="#cdcdcd" stroke-width="1.8" />
<path d="M926.0,442.0 C927.5,443.7 932.0,448.2 935.0,452.0 C938.0,455.8 942.5,462.8 944.0,465.0" fill="none" stroke="#fff" stroke-width="0.6" />
<path d="M944.0,465.0 C943.0,467.5 940.0,475.5 938.0,480.0 C936.0,484.5 934.3,487.8 932.0,492.0 C929.7,496.2 926.8,500.8 924.0,505.0 C921.2,509.2 916.5,515.0 915.0,517.0" fill="none" stroke="#cdcdcd" stroke-width="1.8" />
<path d="M944.0,465.0 C943.0,467.5 940.0,475.5 938.0,480.0 C936.0,484.5 934.3,487.8 932.0,492.0 C929.7,496.2 926.8,500.8 924.0,505.0 C921.2,509.2 916.5,515.0 915.0,517.0" fill="none" stroke="#fff" stroke-width="0.6" />
<path d="M944.0,465.0 C945.0,466.7 948.0,471.5 950.0,475.0 C952.0,478.5 954.0,482.7 956.0,486.0 C958.0,489.3 960.2,492.3 962.0,495.0 C963.8,497.7 966.2,500.8 967.0,502.0" fill="none" stroke="#cdcdcd" stroke-width="1.8" />
<path d="M944.0,465.0 C945.0,466.7 948.0,471.5 950.0,475.0 C952.0,478.5 954.0,482.7 956.0,486.0 C958.0,489.3 960.2,492.3 962.0,495.0 C963.8,497.7 966.2,500.8 967.0,502.0" fill="none" stroke="#fff" stroke-width="0.6" />
<path d="M944.0,465.0 C945.3,464.5 949.0,462.7 952.0,462.0 C955.0,461.3 958.7,460.3 962.0,461.0 C965.3,461.7 968.3,463.8 972.0,466.0 C975.7,468.2 982.0,472.7 984.0,474.0" fill="none" stroke="#cdcdcd" stroke-width="1.8" />
<path d="M944.0,465.0 C945.3,464.5 949.0,462.7 952.0,462.0 C955.0,461.3 958.7,460.3 962.0,461.0 C965.3,461.7 968.3,463.8 972.0,466.0 C975.7,468.2 982.0,472.7 984.0,474.0" fill="none" stroke="#fff" stroke-width="0.6" />
<path d="M962.0,461.0 C964.2,460.5 970.7,459.2 975.0,458.0 C979.3,456.8 985.8,454.7 988.0,454.0" fill="none" stroke="#cdcdcd" stroke-width="1.8" />
<path d="M962.0,461.0 C964.2,460.5 970.7,459.2 975.0,458.0 C979.3,456.8 985.8,454.7 988.0,454.0" fill="none" stroke="#fff" stroke-width="0.6" />
<path d="M935.0,452.0 C936.5,450.0 941.5,444.0 944.0,440.0 C946.5,436.0 949.0,430.0 950.0,428.0" fill="none" stroke="#cdcdcd" stroke-width="1.8" />
<path d="M935.0,452.0 C936.5,450.0 941.5,444.0 944.0,440.0 C946.5,436.0 949.0,430.0 950.0,428.0" fill="none" stroke="#fff" stroke-width="0.6" />
<path d="M940.0,458.0 C942.0,456.7 948.7,453.0 952.0,450.0 C955.3,447.0 958.7,441.7 960.0,440.0" fill="none" stroke="#cdcdcd" stroke-width="1.8" />
<path d="M940.0,458.0 C942.0,456.7 948.7,453.0 952.0,450.0 C955.3,447.0 958.7,441.7 960.0,440.0" fill="none" stroke="#fff" stroke-width="0.6" />
<path d="M523.5,32.6 C523.6,33.9 523.2,37.9 523.7,40.4 C524.3,42.9 526.1,45.1 526.8,47.5 C527.4,49.9 527.8,52.4 527.4,54.8 C527.1,57.1 525.0,59.0 524.6,61.4 C524.2,63.8 525.4,67.3 525.1,69.3 C524.8,71.4 523.2,71.5 522.6,73.7 C522.0,75.9 520.6,80.2 521.5,82.6 C522.4,84.9 526.3,85.6 528.0,87.7 C529.6,89.8 532.0,93.2 531.5,95.4 C531.1,97.6 526.2,98.8 525.4,100.9 C524.7,103.1 527.2,105.8 526.8,108.4 C526.5,110.9 523.0,114.3 523.4,116.2 C523.7,118.1 527.5,118.4 528.9,119.9 C530.3,121.5 530.3,124.0 531.8,125.5 C533.3,127.0 536.7,127.1 537.9,128.7 C539.2,130.4 538.6,132.9 539.3,135.4 C540.0,137.8 540.6,141.1 542.1,143.5 C543.5,146.0 547.0,148.9 548.0,150.0" fill="none" stroke="#fff" stroke-width="1.4" />
<path d="M299.7,33.5 C300.6,34.2 303.5,36.2 305.4,37.5 C307.3,38.7 309.4,39.8 311.3,41.1 C313.2,42.4 314.9,44.0 316.9,45.1 C318.9,46.2 321.4,46.5 323.4,47.6 C325.5,48.8 327.0,51.5 329.2,52.0 C331.5,52.4 334.7,49.8 336.9,50.2 C339.0,50.7 340.3,53.1 342.1,54.6 C343.8,56.1 345.2,58.3 347.2,59.3 C349.1,60.2 351.7,59.5 353.7,60.3 C355.8,61.1 357.4,63.8 359.6,64.0 C361.8,64.2 364.8,61.3 367.0,61.4 C369.3,61.5 371.2,64.0 373.4,64.5 C375.6,65.1 378.0,64.3 380.2,64.8 C382.5,65.3 384.5,66.8 386.6,67.5 C388.8,68.3 390.9,69.0 393.3,69.0 C395.6,69.1 398.7,67.4 400.9,67.7 C403.0,68.0 404.4,69.9 406.2,70.8 C408.0,71.7 410.1,72.0 411.8,73.3 C413.5,74.5 414.6,77.3 416.4,78.4 C418.2,79.5 420.3,79.7 422.4,79.8 C424.5,79.9 427.3,78.4 429.2,79.1 C431.1,79.9 431.8,83.5 433.8,84.2 C435.7,85.0 438.8,82.7 440.8,83.4 C442.8,84.1 443.7,87.5 445.7,88.5 C447.7,89.5 450.6,88.8 452.8,89.3 C455.1,89.9 457.4,90.2 459.1,91.8 C460.8,93.3 461.2,97.5 463.2,98.7 C465.1,99.8 468.7,98.2 470.8,98.8 C472.9,99.4 474.5,100.5 475.8,102.1 C477.1,103.8 477.3,107.1 478.7,108.7 C480.0,110.2 482.0,110.9 484.0,111.5 C486.0,112.2 489.0,111.3 490.6,112.5 C492.2,113.6 492.2,117.3 493.7,118.6 C495.3,119.9 498.1,119.0 499.9,120.1 C501.6,121.3 502.5,124.2 504.4,125.6 C506.2,127.1 509.5,127.1 511.0,129.0 C512.6,130.8 512.1,134.7 513.4,136.6 C514.8,138.4 518.5,138.3 519.1,139.8 C519.6,141.4 517.2,143.8 516.7,145.9 C516.2,147.9 515.8,150.0 516.1,152.2 C516.3,154.4 518.0,156.8 518.0,158.9 C518.0,161.0 516.3,164.0 516.0,165.0" fill="none" stroke="#fff" stroke-width="0.9" stroke-opacity="0.8"/>
<path d="M460.7,32.8 C461.2,33.8 463.2,36.9 463.8,39.3 C464.4,41.6 463.6,44.5 464.4,46.7 C465.3,48.9 468.2,50.4 469.1,52.7 C470.0,54.9 469.3,57.8 469.9,60.0 C470.4,62.2 471.5,63.9 472.5,65.8 C473.5,67.7 475.1,69.4 475.7,71.4 C476.3,73.5 475.3,76.0 476.0,78.0 C476.7,80.0 479.0,81.4 479.8,83.4 C480.5,85.4 479.6,87.9 480.3,89.9 C480.9,91.9 482.7,93.5 483.6,95.5 C484.5,97.4 485.1,99.4 485.6,101.5 C486.0,103.6 486.1,105.7 486.3,107.9 C486.5,110.1 485.9,112.5 486.8,114.4 C487.6,116.4 490.4,117.7 491.4,119.5 C492.5,121.4 492.7,123.5 493.1,125.6 C493.4,127.8 493.3,130.0 493.5,132.2 C493.7,134.3 493.6,136.6 494.3,138.6 C495.0,140.6 496.7,142.2 497.7,144.1 C498.7,146.0 500.3,148.0 500.4,150.0 C500.5,152.0 497.9,154.2 498.1,156.2 C498.3,158.3 501.7,160.4 501.8,162.5 C501.9,164.6 498.7,166.7 498.6,168.8 C498.4,170.8 500.4,172.9 500.8,175.0 C501.3,177.1 501.3,179.2 501.4,181.2 C501.5,183.3 501.6,185.4 501.5,187.5 C501.4,189.6 501.2,191.7 500.8,193.8 C500.3,195.8 498.7,197.9 498.7,200.0 C498.8,202.1 501.1,204.2 501.3,206.2 C501.4,208.3 500.0,210.4 499.7,212.5 C499.4,214.6 499.3,216.7 499.4,218.8 C499.6,220.8 500.4,222.9 500.5,225.0 C500.6,227.1 499.6,229.2 499.8,231.2 C500.0,233.3 501.4,235.4 501.7,237.5 C502.1,239.6 502.1,241.7 501.8,243.8 C501.5,245.8 500.3,249.0 500.0,250.0" fill="none" stroke="#fff" stroke-width="0.7" stroke-opacity="0.6"/>
<path d="M312.0,33.0 C316.0,40.8 328.0,67.5 336.0,80.0 C344.0,92.5 352.7,99.3 360.0,108.0 C367.3,116.7 375.5,123.0 380.0,132.0 C384.5,141.0 385.8,157.0 387.0,162.0" fill="none" stroke="#6e6e6e" stroke-width="0.9" />
<path d="M500.0,192.0 C495.0,186.7 480.0,172.0 470.0,160.0 C460.0,148.0 448.3,133.3 440.0,120.0 C431.7,106.7 426.7,94.5 420.0,80.0 C413.3,65.5 403.3,40.8 400.0,33.0" fill="none" stroke="#6e6e6e" stroke-width="0.7" />
<path d="M960.0,222.0 C961.0,222.2 964.0,223.2 966.0,223.5 C968.0,223.8 971.0,223.9 972.0,224.0" fill="none" stroke="#c4c4c4" stroke-width="1.6" />
<path d="M970.0,225.5 L973.0,220.0" fill="none" stroke="#c8c8c8" stroke-width="1.2" />
<path d="M990.0,226.0 C990.7,225.9 992.7,225.6 994.0,225.3 C995.3,225.1 997.3,224.6 998.0,224.5" fill="none" stroke="#c8c8c8" stroke-width="1.1" />
<rect x="969" y="178.6" width="31" height="4.4" fill="#d0d0d0" opacity="0.8"/><text x="970" y="182.4" font-size="4" fill="#fff" font-family="Liberation Sans">Gulfport-Biloxi</text>
</g>
<g opacity="0.999"><g clip-path="url(#mapclip)"><path d="M593.0,260.0 C592.3,263.7 589.5,275.3 589.0,282.0 C588.5,288.7 588.2,294.5 590.0,300.0 C591.8,305.5 595.5,310.5 600.0,315.0 C604.5,319.5 610.3,323.2 617.0,327.0 C623.7,330.8 632.8,334.8 640.0,338.0 C647.2,341.2 654.0,343.5 660.0,346.0 C666.0,348.5 671.7,350.7 676.0,353.0 C680.3,355.3 684.3,358.8 686.0,360.0" fill="none" stroke="url(#dots)" stroke-width="15" stroke-linecap="butt"/>
<path d="M140.4,272.0 L144.3,266.7 L157.3,264.8 L153.4,269.3 L149.5,273.0 L152.0,277.0 L156.0,279.7 L169.0,280.4 L170.3,274.5 L176.0,273.0 L176.0,279.7 L169.0,282.3 L160.0,283.0 L166.4,288.0 L174.0,291.4 L182.0,295.3 L186.0,293.4 L186.0,299.0 L187.9,303.0" fill="none" stroke="#4a86e8" stroke-width="2.0" stroke-linejoin="round"/>
<path d="M144.0,268.0 L150.0,270.0 L156.0,266.0" fill="none" stroke="#4a86e8" stroke-width="1.6" stroke-linejoin="round"/>
<path d="M156.0,281.0 L160.0,289.0 L165.0,298.0" fill="none" stroke="#4a86e8" stroke-width="3.6" stroke-linejoin="round"/>
<path d="M187.9,303.0 L209.3,303.8 L221.0,300.5 L234.0,296.0 L241.8,293.4 L243.0,294.7 L238.0,298.0 L235.3,300.5 L238.0,302.5 L245.7,303.8 L247.7,307.0 L241.8,311.0 L236.6,316.0 L232.7,321.3 L228.8,325.9 L226.0,327.8 L221.0,325.9 L209.3,322.6 L197.6,320.0 L187.9,318.0 L182.0,322.6 L179.4,325.9 L169.0,327.0 L158.6,329.8 L149.5,330.4 L140.4,331.0 L135.2,333.0 L133.3,329.0 L137.8,324.6 L147.0,323.3 L154.7,320.0 L157.3,313.5 L156.0,307.0 L154.0,300.5 L150.8,294.0 L150.0,289.5 L156.0,289.5 L160.0,294.0 L165.0,299.0 L170.3,302.5 L179.4,302.9Z" fill="none" stroke="#4a86e8" stroke-width="2.0" stroke-linejoin="round"/>
<path d="M187.9,303.0 L187.9,318.0" fill="none" stroke="#4a86e8" stroke-width="1.8" stroke-linejoin="round"/>
<path d="M209.3,303.8 L208.0,322.6" fill="none" stroke="#4a86e8" stroke-width="1.8" stroke-linejoin="round"/>
<path d="M54.7,294.0 L62.7,298.0 L75.0,295.4 L76.5,303.0 L75.0,309.0 L67.7,308.0 L60.0,304.0 L54.7,300.5Z" fill="none" stroke="#4a86e8" stroke-width="1.8" stroke-linejoin="round"/>
<path d="M51.0,312.0 L52.0,315.0" fill="none" stroke="#4a86e8" stroke-width="1.5" stroke-linejoin="round"/>
<path d="M59.0,322.0 L60.0,324.0" fill="none" stroke="#4a86e8" stroke-width="1.5" stroke-linejoin="round"/>
<path d="M568.0,389.0 L574.0,390.0 L580.0,395.0 L586.0,396.0 L592.0,394.0 L598.0,393.0 L600.0,398.0 L604.0,402.0 L606.0,410.0 L609.0,416.0 L616.0,415.0 L618.0,420.0 L620.0,426.0 L626.0,423.0 L630.0,425.0 L631.0,430.0 L628.0,434.0 L622.0,434.0 L618.0,430.0 L612.0,432.0 L604.0,436.0 L596.0,436.0 L588.0,434.0 L582.0,428.0 L578.0,420.0 L575.0,410.0 L572.0,402.0 L569.0,396.0Z" fill="none" stroke="#4a86e8" stroke-width="1.9" stroke-linejoin="round"/>
<circle cx="623.5" cy="428.5" r="6" fill="none" stroke="#4a86e8" stroke-width="1.9"/>
<path d="M647.0,398.0 L654.0,397.0 L655.0,404.0 L652.0,410.0 L653.0,418.0 L648.0,419.0 L644.0,416.0 L645.0,408.0Z" fill="#6a9ce8" stroke="#4a86e8" stroke-width="1.8" stroke-linejoin="round"/>
<path d="M630.0,224.0 L636.5,219.0 L645.0,221.5 L655.0,225.0 L666.6,227.7 L664.0,234.0 L659.0,237.8 L655.0,242.8 L646.5,241.5 L637.8,239.0 L636.5,234.0 L632.7,230.0Z" fill="none" stroke="#4a86e8" stroke-width="2.0" stroke-linejoin="round"/>
<path d="M548.0,374.0 L550.0,377.0" fill="none" stroke="#4a86e8" stroke-width="1.2" stroke-linejoin="round"/>
<path d="M815.0,246.0 L818.4,252.6 L821.6,260.6 L826.4,265.4 L823.2,271.8 L818.4,276.6 L821.6,283.0 L826.4,289.4 L832.8,295.8 L839.2,302.2 L840.8,307.0 L837.6,311.8 L824.8,312.6 L813.6,311.8 L810.4,307.0 L810.4,302.2 L804.0,299.0 L796.0,297.4 L791.2,294.2 L786.4,289.4 L781.6,290.2 L780.0,295.8 L775.2,300.6 L770.4,299.0 L767.2,294.2 L762.4,289.4 L757.6,292.6 L752.8,297.4 L746.4,300.6 L738.4,299.0 L732.0,297.4 L730.4,291.0 L735.2,286.2 L738.4,281.4 L737.1,275.0 L738.4,269.4 L748.0,271.0 L757.6,273.4 L767.2,275.0 L776.8,275.8 L786.4,274.2 L792.8,271.0 L799.2,267.0 L805.6,260.6 L810.4,252.6Z" fill="#b7b0b8" stroke="#a81fa8" stroke-width="1.8" stroke-linejoin="round" stroke-linecap="round"/>
<path d="M786.4,289.4 L787.2,283.0 L789.6,278.2 L796.0,276.6 L805.6,275.0 L812.0,272.0" fill="none" stroke="#a81fa8" stroke-width="1.6" stroke-linejoin="round" stroke-linecap="round"/>
<path d="M709.6,278.2 L714.4,276.6 L716.0,281.4 L724.0,283.0 L732.0,284.6 L737.0,282.0 L735.0,286.0 L728.8,294.2 L719.2,292.6 L716.0,287.8 L711.2,283.0Z" fill="#b7b0b8" stroke="#a81fa8" stroke-width="1.6" stroke-linejoin="round" stroke-linecap="round"/>
<path d="M764.0,305.4 L770.4,311.8 L773.6,324.6 L780.0,327.8 L786.4,331.0 L789.6,324.6 L794.4,315.0 L797.6,307.0 L802.4,302.2 L796.0,297.4 L790.0,300.0 L786.0,306.0 L780.0,310.0 L775.2,300.6Z" fill="#b7b0b8" stroke="#a81fa8" stroke-width="1.8" stroke-linejoin="round" stroke-linecap="round"/>
<path d="M786.4,331.0 C786.7,332.1 787.2,335.3 788.0,337.4 C788.8,339.5 789.9,341.7 791.2,343.8 C792.5,345.9 794.5,347.5 796.0,350.2 C797.5,352.9 797.5,357.3 800.3,360.0 C803.1,362.7 808.6,364.6 812.8,366.3 C817.0,368.0 821.6,368.6 825.4,370.0 C829.2,371.4 832.1,372.9 835.4,375.0 C838.7,377.1 842.9,379.7 845.4,382.6 C847.9,385.5 848.0,389.7 850.5,392.6 C853.0,395.5 857.2,398.1 860.5,400.0 C863.8,401.9 868.0,401.9 870.5,404.0 C873.0,406.1 873.0,410.0 875.5,412.7 C878.0,415.4 882.2,417.9 885.6,420.0 C889.0,422.1 892.3,424.6 895.6,425.0 C898.9,425.4 902.7,422.2 905.6,422.7 C908.5,423.1 910.5,425.6 913.0,427.7 C915.5,429.8 918.8,432.7 920.7,435.0 C922.6,437.3 923.8,440.4 924.4,441.5" fill="none" stroke="#a81fa8" stroke-width="2.6" stroke-linejoin="round" stroke-linecap="round"/>
<path d="M782.0,332.0 C782.3,333.3 783.0,337.3 784.0,340.0 C785.0,342.7 786.3,345.3 788.0,348.0 C789.7,350.7 791.7,353.3 794.0,356.0 C796.3,358.7 798.7,361.7 802.0,364.0 C805.3,366.3 810.0,368.3 814.0,370.0 C818.0,371.7 822.3,372.3 826.0,374.0 C829.7,375.7 833.0,377.7 836.0,380.0 C839.0,382.3 841.7,385.2 844.0,388.0 C846.3,390.8 847.3,394.3 850.0,397.0 C852.7,399.7 857.0,402.2 860.0,404.0 C863.0,405.8 865.7,406.0 868.0,408.0 C870.3,410.0 871.3,413.3 874.0,416.0 C876.7,418.7 880.3,421.8 884.0,424.0 C887.7,426.2 892.3,428.3 896.0,429.0 C899.7,429.7 903.0,427.5 906.0,428.0 C909.0,428.5 912.7,431.3 914.0,432.0" fill="none" stroke="#a81fa8" stroke-width="1.6" stroke-linejoin="round" stroke-linecap="round"/>
<path d="M818.0,207.0 C817.7,207.8 816.3,210.2 816.0,212.0 C815.7,213.8 815.7,216.5 816.4,218.0 C817.1,219.5 819.4,220.5 820.0,221.0" fill="none" stroke="#a81fa8" stroke-width="1.8" stroke-linejoin="round" stroke-linecap="round"/>
<path d="M842.0,202.0 C842.7,202.5 844.7,203.3 846.0,205.0 C847.3,206.7 849.2,209.8 850.0,212.0 C850.8,214.2 851.7,216.3 851.0,218.0 C850.3,219.7 847.5,220.7 846.0,222.0 C844.5,223.3 843.0,224.3 842.0,226.0 C841.0,227.7 840.7,230.6 840.0,232.0 C839.3,233.4 839.3,234.6 838.0,234.4 C836.7,234.2 834.0,231.9 832.0,231.0 C830.0,230.1 826.3,230.2 826.0,229.0 C825.7,227.8 829.3,224.8 830.0,224.0" fill="none" stroke="#a81fa8" stroke-width="1.8" stroke-linejoin="round" stroke-linecap="round"/>
<path d="M636.3,383.0 L638.4,387.3 L643.3,390.0 L645.4,399.0 L644.7,407.6 L640.5,415.3 L649.6,417.4 L651.7,423.0 L651.0,432.8 L658.0,435.6 L665.0,441.2 L668.5,439.8 L670.6,432.8 L677.6,423.0 L681.8,416.0 L684.0,409.7 L693.0,406.9 L700.0,403.4 L704.2,406.2 L707.7,412.5 L708.4,406.2 L711.2,396.4 L714.0,390.8 L723.8,390.0" fill="none" stroke="#a81fa8" stroke-width="2.3" stroke-linejoin="round" stroke-linecap="round"/>
<path d="M719.6,382.4 L721.0,375.4 L726.6,374.7 L736.4,381.0 L740.6,392.2 L747.6,404.8 L751.0,414.0 L749.0,418.8 L742.0,417.4 L736.4,416.0 L730.8,406.2 L726.6,392.2 L723.8,390.0Z" fill="#b0b0b0" stroke="#a81fa8" stroke-width="2.3" stroke-linejoin="round" stroke-linecap="round"/>
<path d="M705.6,369.0 L708.4,372.6 L716.8,372.6" fill="none" stroke="#a81fa8" stroke-width="1.8" stroke-linejoin="round" stroke-linecap="round"/>
<path d="M744.8,418.0 L746.2,427.2" fill="none" stroke="#a81fa8" stroke-width="1.8" stroke-linejoin="round" stroke-linecap="round"/>
<path d="M749.0,418.8 L749.5,427.0" fill="none" stroke="#a81fa8" stroke-width="1.8" stroke-linejoin="round" stroke-linecap="round"/>
<path d="M106.6,339.3 C108.8,339.4 115.2,339.7 120.0,339.8 C124.8,339.9 132.8,340.0 135.4,340.0" fill="none" stroke="#e2651e" stroke-width="1.6" stroke-linecap="round" />
<path d="M240.0,320.0 C241.7,320.7 246.3,322.7 250.0,324.0 C253.7,325.3 260.0,327.3 262.0,328.0" fill="none" stroke="#e2651e" stroke-width="2.4" stroke-linecap="round" />
<path d="M338.5,384.0 L339.0,389.0" fill="none" stroke="#e2651e" stroke-width="2" stroke-linecap="round" />
<circle cx="599" cy="371.5" r="2.8" fill="#e2651e"/><circle cx="601" cy="376.5" r="3" fill="#e2651e"/>
<ellipse cx="607" cy="432" rx="5.5" ry="5" fill="#e2651e"/><circle cx="613" cy="428" r="2.5" fill="#e2651e"/>
<path d="M726.0,220.5 L728.0,217.5" fill="none" stroke="#e2651e" stroke-width="2.6" stroke-linecap="round" />
<path d="M716.0,231.0 L720.0,229.0" fill="none" stroke="#e2651e" stroke-width="2.6" stroke-linecap="round" />
<path d="M836.0,266.0 C836.8,266.4 839.5,267.3 841.0,268.5 C842.5,269.7 844.3,272.2 845.0,273.0" fill="none" stroke="#e2651e" stroke-width="2.4" stroke-linecap="round" />
<path d="M820.0,277.0 C820.1,278.0 820.0,281.0 820.5,283.0 C821.0,285.0 821.8,287.1 823.0,289.0 C824.2,290.9 826.2,293.0 828.0,294.5 C829.8,296.0 833.0,297.4 834.0,298.0" fill="none" stroke="#e2651e" stroke-width="1.8" stroke-linecap="round" stroke-dasharray="4 3"/>
<path d="M877.0,283.0 C876.5,284.0 874.7,287.0 874.0,289.0 C873.3,291.0 872.8,293.0 873.0,295.0 C873.2,297.0 874.7,300.0 875.0,301.0" fill="none" stroke="#e2651e" stroke-width="2.4" stroke-linecap="round" />
<path d="M850.0,307.0 C851.0,307.3 854.0,308.6 856.0,309.0 C858.0,309.4 861.0,309.4 862.0,309.5" fill="none" stroke="#e2651e" stroke-width="1.8" stroke-linecap="round" />
<circle cx="766.5" cy="347.5" r="5.2" fill="none" stroke="#e2651e" stroke-width="3.2"/>
<path d="M757.0,369.0 C756.8,370.2 755.5,373.8 756.0,376.0 C756.5,378.2 758.3,380.7 760.0,382.0 C761.7,383.3 765.0,383.7 766.0,384.0" fill="none" stroke="#e2651e" stroke-width="3" stroke-linecap="round" />
<path d="M745.0,484.5 C748.5,484.1 759.5,485.6 766.0,482.0 C772.5,478.4 781.0,466.2 784.0,463.0" fill="none" stroke="#d98a4a" stroke-width="0.9" stroke-linecap="round" />
<path d="M784.0,463.0 C786.5,460.8 793.6,454.5 799.0,449.5 C804.4,444.5 813.7,435.8 816.6,433.0" fill="none" stroke="#c9b8c9" stroke-width="0.7" stroke-linecap="round" />
<path d="M816.0,433.0 L822.0,434.0" fill="none" stroke="#d98a4a" stroke-width="0.9" stroke-linecap="round" />
<path d="M842.0,432.0 C843.8,432.2 849.3,432.3 853.0,433.0 C856.7,433.7 860.8,435.0 864.0,436.0 C867.2,437.0 869.3,437.5 872.0,439.0 C874.7,440.5 877.0,443.7 880.0,445.0 C883.0,446.3 888.0,446.0 890.0,447.0 C892.0,448.0 891.7,450.3 892.0,451.0" fill="none" stroke="#d98a4a" stroke-width="0.9" stroke-linecap="round" />
<path d="M896.0,452.0 C897.0,452.7 900.2,454.3 902.0,456.0 C903.8,457.7 906.2,461.0 907.0,462.0" fill="none" stroke="#d98a4a" stroke-width="0.9" stroke-linecap="round" />
<path d="M757.5,451.0 L754.5,457.0" fill="none" stroke="#d62a2a" stroke-width="1.8" stroke-linecap="round" />
<path d="M757.0,463.0 L762.0,468.0" fill="none" stroke="#d62a2a" stroke-width="1.8" stroke-linecap="round" />
<path d="M221.0,345.0 L228.0,344.0 L232.0,348.0 L233.0,354.0 L229.0,357.0 L224.0,356.0 L220.0,352.0Z" fill="#92d050"/>
<path d="M586.0,424.0 L591.0,426.0 L593.0,431.0 L598.0,432.0 L602.0,435.0 L598.0,439.0 L590.0,438.0 L584.0,441.0 L578.0,440.0 L577.0,436.0 L582.0,432.0 L584.0,427.0Z" fill="#92d050"/>
<path d="M794.0,219.0 C795.3,219.4 799.0,220.9 802.0,221.5 C805.0,222.1 810.3,222.3 812.0,222.5" fill="none" stroke="#92d050" stroke-width="2.2" stroke-linecap="round" />
<path d="M452.0,387.0 L456.0,389.0" fill="none" stroke="#92d050" stroke-width="3" stroke-linecap="round" />
<path d="M889.0,428.0 C890.3,428.5 894.3,430.3 897.0,431.0 C899.7,431.7 903.7,431.8 905.0,432.0" fill="none" stroke="#92d050" stroke-width="2.4" stroke-linecap="round" />
<path d="M908.0,324.0 C908.0,322.0 909.7,320.0 911.0,319.0 C912.3,318.0 914.7,318.7 916.0,318.0 C917.3,317.3 917.7,315.3 919.0,315.0 C920.3,314.7 922.5,315.5 924.0,316.0 C925.5,316.5 926.5,317.8 928.0,318.0 C929.5,318.2 931.5,316.7 933.0,317.0 C934.5,317.3 936.2,318.5 937.0,320.0 C937.8,321.5 938.3,324.2 938.0,326.0 C937.7,327.8 936.3,329.8 935.0,331.0 C933.7,332.2 931.7,333.0 930.0,333.0 C928.3,333.0 926.7,331.2 925.0,331.0 C923.3,330.8 921.7,332.2 920.0,332.0 C918.3,331.8 916.5,330.2 915.0,330.0 C913.5,329.8 912.2,332.0 911.0,331.0 C909.8,330.0 908.0,326.0 908.0,324.0Z" fill="#3f7fe8"/>
<path d="M792.0,284.0 C792.7,282.5 795.0,281.3 797.0,281.0 C799.0,280.7 802.2,281.2 804.0,282.0 C805.8,282.8 807.7,284.5 808.0,286.0 C808.3,287.5 807.5,290.0 806.0,291.0 C804.5,292.0 801.2,292.2 799.0,292.0 C796.8,291.8 794.2,291.3 793.0,290.0 C791.8,288.7 791.3,285.5 792.0,284.0Z" fill="#8db4ee" stroke="#4a86e8" stroke-width="1.2"/>
<path d="M826.0,382.0 C826.3,380.0 828.2,378.7 830.0,378.0 C831.8,377.3 835.0,377.3 837.0,378.0 C839.0,378.7 841.3,380.2 842.0,382.0 C842.7,383.8 842.2,387.3 841.0,389.0 C839.8,390.7 837.2,391.8 835.0,392.0 C832.8,392.2 829.5,391.7 828.0,390.0 C826.5,388.3 825.7,384.0 826.0,382.0Z" fill="#9dbdf0" stroke="#4a86e8" stroke-width="1.4"/>
<g transform="translate(118.0,276.6)"><circle r="4.6" fill="#fff" stroke="#b4d882" stroke-width="0.8"/><path d="M-4.34,-0.70 Q0,-1.90 4.34,-0.70 A4.4,4.4 0 1 1 -4.34,-0.70Z" fill="#080808"/></g>
<g transform="translate(120.4,295.2)"><circle r="4.6" fill="#fff" stroke="#b4d882" stroke-width="0.8"/><path d="M-4.34,-0.70 Q0,-1.90 4.34,-0.70 A4.4,4.4 0 1 1 -4.34,-0.70Z" fill="#080808"/></g>
<g transform="translate(130.4,295.4)"><circle r="4.6" fill="#fff" stroke="#b4d882" stroke-width="0.8"/><path d="M-4.34,-0.70 Q0,-1.90 4.34,-0.70 A4.4,4.4 0 1 1 -4.34,-0.70Z" fill="#080808"/></g>
<g transform="translate(120.4,300.6)"><circle r="4.6" fill="#fff" stroke="#b4d882" stroke-width="0.8"/><path d="M-4.34,-0.70 Q0,-1.90 4.34,-0.70 A4.4,4.4 0 1 1 -4.34,-0.70Z" fill="#080808"/></g>
<g transform="translate(64.7,302.5)"><circle r="4.6" fill="#fff" stroke="#2a2a2a" stroke-width="0.9"/><path d="M-3.92,-2.00 L3.92,-2.00 A4.4,4.4 0 1 1 -3.92,-2.00Z" fill="#151515"/><path d="M-4.36,0.60 L4.36,0.60 A4.4,4.4 0 0 1 -4.36,0.60Z" fill="#4a86d8"/><rect x="-2.6" y="-1.1" width="5.2" height="0.8" fill="#ddd"/></g>
<g transform="translate(188.0,302.0)"><circle r="4.6" fill="#fff" stroke="#2a2a2a" stroke-width="0.9"/><path d="M-3.92,-2.00 L3.92,-2.00 A4.4,4.4 0 1 1 -3.92,-2.00Z" fill="#151515"/><path d="M-4.36,0.60 L4.36,0.60 A4.4,4.4 0 0 1 -4.36,0.60Z" fill="#4a86d8"/><rect x="-2.6" y="-1.1" width="5.2" height="0.8" fill="#ddd"/></g>
<g transform="translate(165.5,313.5)"><circle r="4.6" fill="#fff" stroke="#2a2a2a" stroke-width="0.9"/><path d="M-3.92,-2.00 L3.92,-2.00 A4.4,4.4 0 1 1 -3.92,-2.00Z" fill="#151515"/><path d="M-4.36,0.60 L4.36,0.60 A4.4,4.4 0 0 1 -4.36,0.60Z" fill="#4a86d8"/><rect x="-2.6" y="-1.1" width="5.2" height="0.8" fill="#ddd"/></g>
<g transform="translate(126.0,337.0)"><circle r="4.6" fill="#fff" stroke="#e3a884" stroke-width="0.8"/><path d="M-4.34,-0.70 Q0,-1.90 4.34,-0.70 A4.4,4.4 0 1 1 -4.34,-0.70Z" fill="#080808"/><path d="M-2.2,-0.6 L-1,-2.4 L1,-2.4 L2.2,-0.6Z" fill="#080808"/></g>
<g transform="translate(168.5,335.5)"><circle r="4.6" fill="#f3e6b0" stroke="#b8b070" stroke-width="0.9"/><path d="M-4.38,-0.40 L4.38,-0.40 A4.4,4.4 0 1 1 -4.38,-0.40Z" fill="#151515"/><rect x="-2.8" y="2.2" width="5.6" height="1.6" fill="#3a6ab0"/></g>
<g transform="translate(237.6,318.5)"><circle r="4.6" fill="#fff" stroke="#e8b870" stroke-width="0.9"/><path d="M-4.3,0.9 L3.4,-2.8 L4.4,0 A4.4,4.4 0 0 1 -4.4,0 Z" fill="#080808"/><path d="M-4.2,0.6 L-1.2,-0.8 L-1.2,1Z" fill="#5a96d8"/></g>
<g transform="translate(252.0,322.7)"><circle r="4.6" fill="#fff" stroke="#e8b870" stroke-width="0.9"/><path d="M-4.3,0.9 L3.4,-2.8 L4.4,0 A4.4,4.4 0 0 1 -4.4,0 Z" fill="#080808"/><path d="M-4.2,0.6 L-1.2,-0.8 L-1.2,1Z" fill="#5a96d8"/></g>
<g transform="translate(231.3,349.0)"><circle r="4.6" fill="#fff" stroke="#b4d882" stroke-width="0.8"/><path d="M-4.34,-0.70 Q0,-1.90 4.34,-0.70 A4.4,4.4 0 1 1 -4.34,-0.70Z" fill="#080808"/></g>
<g transform="translate(241.4,366.6)"><circle r="4.6" fill="#fff" stroke="#5a7ac8" stroke-width="0.9"/><path d="M-4.17,-1.40 L4.17,-1.40 A4.4,4.4 0 1 1 -4.17,-1.40Z" fill="#4a86d8"/><path d="M-4.39,-0.30 L4.39,-0.30 A4.4,4.4 0 1 1 -4.39,-0.30Z" fill="#080808"/></g>
<g transform="translate(247.0,370.0)"><circle r="4.6" fill="#fff" stroke="#e8b870" stroke-width="0.9"/><path d="M-4.3,0.9 L3.4,-2.8 L4.4,0 A4.4,4.4 0 0 1 -4.4,0 Z" fill="#080808"/><path d="M-4.2,0.6 L-1.2,-0.8 L-1.2,1Z" fill="#5a96d8"/></g>
<g transform="translate(312.8,365.3)"><circle r="4.6" fill="#f3e6b0" stroke="#b8b070" stroke-width="0.9"/><path d="M-4.38,-0.40 L4.38,-0.40 A4.4,4.4 0 1 1 -4.38,-0.40Z" fill="#151515"/><rect x="-2.8" y="2.2" width="5.6" height="1.6" fill="#3a6ab0"/></g>
<g transform="translate(346.7,375.4)"><circle r="4.6" fill="#fff" stroke="#e8b870" stroke-width="0.9"/><path d="M-4.3,0.9 L3.4,-2.8 L4.4,0 A4.4,4.4 0 0 1 -4.4,0 Z" fill="#080808"/><path d="M-4.2,0.6 L-1.2,-0.8 L-1.2,1Z" fill="#5a96d8"/></g>
<g transform="translate(338.0,381.6)"><circle r="4.6" fill="#fff" stroke="#e8b870" stroke-width="0.9"/><path d="M-4.3,0.9 L3.4,-2.8 L4.4,0 A4.4,4.4 0 0 1 -4.4,0 Z" fill="#080808"/><path d="M-4.2,0.6 L-1.2,-0.8 L-1.2,1Z" fill="#5a96d8"/></g>
<g transform="translate(361.0,339.0)"><circle r="4.6" fill="#fff" stroke="#e8b870" stroke-width="0.9"/><path d="M-4.3,0.9 L3.4,-2.8 L4.4,0 A4.4,4.4 0 0 1 -4.4,0 Z" fill="#080808"/><path d="M-4.2,0.6 L-1.2,-0.8 L-1.2,1Z" fill="#5a96d8"/></g>
<g transform="translate(423.6,273.4)"><circle r="4.6" fill="#f3e6b0" stroke="#b8b070" stroke-width="0.9"/><path d="M-4.38,-0.40 L4.38,-0.40 A4.4,4.4 0 1 1 -4.38,-0.40Z" fill="#151515"/><rect x="-2.8" y="2.2" width="5.6" height="1.6" fill="#3a6ab0"/></g>
<g transform="translate(430.7,296.4)"><circle r="4.6" fill="#f3e6b0" stroke="#b8b070" stroke-width="0.9"/><path d="M-4.38,-0.40 L4.38,-0.40 A4.4,4.4 0 1 1 -4.38,-0.40Z" fill="#151515"/><rect x="-2.8" y="2.2" width="5.6" height="1.6" fill="#3a6ab0"/></g>
<g transform="translate(426.6,335.0)"><circle r="4.6" fill="#fff" stroke="#e8b870" stroke-width="0.9"/><path d="M-4.3,0.9 L3.4,-2.8 L4.4,0 A4.4,4.4 0 0 1 -4.4,0 Z" fill="#080808"/><path d="M-4.2,0.6 L-1.2,-0.8 L-1.2,1Z" fill="#5a96d8"/></g>
<g transform="translate(493.3,335.0)"><circle r="4.6" fill="#fff" stroke="#e3a884" stroke-width="0.8"/><path d="M-4.34,-0.70 Q0,-1.90 4.34,-0.70 A4.4,4.4 0 1 1 -4.34,-0.70Z" fill="#080808"/><path d="M-2.2,-0.6 L-1,-2.4 L1,-2.4 L2.2,-0.6Z" fill="#080808"/></g>
<g transform="translate(561.0,351.0)"><circle r="4.6" fill="#fff" stroke="#b84ab8" stroke-width="0.8"/><path d="M-4.34,-0.70 Q0,-1.90 4.34,-0.70 A4.4,4.4 0 1 1 -4.34,-0.70Z" fill="#080808"/><path d="M-2.2,-0.6 L-1,-2.4 L1,-2.4 L2.2,-0.6Z" fill="#080808"/></g>
<g transform="translate(555.5,354.5)"><circle r="4.6" fill="#f3e6b0" stroke="#b8b070" stroke-width="0.9"/><path d="M-4.38,-0.40 L4.38,-0.40 A4.4,4.4 0 1 1 -4.38,-0.40Z" fill="#151515"/><rect x="-2.8" y="2.2" width="5.6" height="1.6" fill="#3a6ab0"/></g>
<g transform="translate(457.7,387.4)"><circle r="4.6" fill="#fff" stroke="#b4d882" stroke-width="0.8"/><path d="M-4.34,-0.70 Q0,-1.90 4.34,-0.70 A4.4,4.4 0 1 1 -4.34,-0.70Z" fill="#080808"/></g>
<g transform="translate(595.6,257.6)"><circle r="4.6" fill="#f3e6b0" stroke="#b8b070" stroke-width="0.9"/><path d="M-4.38,-0.40 L4.38,-0.40 A4.4,4.4 0 1 1 -4.38,-0.40Z" fill="#151515"/><rect x="-2.8" y="2.2" width="5.6" height="1.6" fill="#3a6ab0"/></g>
<g transform="translate(602.0,272.0)"><circle r="4.6" fill="#fff" stroke="#c8c8c8" stroke-width="0.8"/><path d="M-2.2,1.6 L0,-2.2 L2.2,1.6Z" fill="#ddd" stroke="#999" stroke-width="0.7"/><circle r="0.8" cy="0.5" fill="#999"/></g>
<g transform="translate(636.0,331.6)"><circle r="4.6" fill="#fff" stroke="#c8c8c8" stroke-width="0.8"/><path d="M-2.2,1.6 L0,-2.2 L2.2,1.6Z" fill="#ddd" stroke="#999" stroke-width="0.7"/><circle r="0.8" cy="0.5" fill="#999"/></g>
<g transform="translate(609.2,382.3)"><circle r="4.6" fill="#fff" stroke="#e8b870" stroke-width="0.9"/><path d="M-4.3,0.9 L3.4,-2.8 L4.4,0 A4.4,4.4 0 0 1 -4.4,0 Z" fill="#080808"/><path d="M-4.2,0.6 L-1.2,-0.8 L-1.2,1Z" fill="#5a96d8"/></g>
<g transform="translate(615.2,386.8)"><circle r="4.6" fill="#fff" stroke="#e8b870" stroke-width="0.9"/><path d="M-4.3,0.9 L3.4,-2.8 L4.4,0 A4.4,4.4 0 0 1 -4.4,0 Z" fill="#080808"/><path d="M-4.2,0.6 L-1.2,-0.8 L-1.2,1Z" fill="#5a96d8"/></g>
<g transform="translate(593.3,414.4)"><circle r="4.6" fill="#fff" stroke="#2a2a2a" stroke-width="0.9"/><path d="M-3.92,-2.00 L3.92,-2.00 A4.4,4.4 0 1 1 -3.92,-2.00Z" fill="#151515"/><path d="M-4.36,0.60 L4.36,0.60 A4.4,4.4 0 0 1 -4.36,0.60Z" fill="#4a86d8"/><rect x="-2.6" y="-1.1" width="5.2" height="0.8" fill="#ddd"/></g>
<g transform="translate(577.8,432.8)"><circle r="4.6" fill="#fff" stroke="#b4d882" stroke-width="0.8"/><path d="M-4.34,-0.70 Q0,-1.90 4.34,-0.70 A4.4,4.4 0 1 1 -4.34,-0.70Z" fill="#080808"/></g>
<g transform="translate(585.9,429.0)"><circle r="4.6" fill="#f3e6b0" stroke="#b8b070" stroke-width="0.9"/><path d="M-4.38,-0.40 L4.38,-0.40 A4.4,4.4 0 1 1 -4.38,-0.40Z" fill="#151515"/><rect x="-2.8" y="2.2" width="5.6" height="1.6" fill="#3a6ab0"/></g>
<g transform="translate(608.3,430.2)"><circle r="4.6" fill="#fff" stroke="#e8b870" stroke-width="0.9"/><path d="M-4.3,0.9 L3.4,-2.8 L4.4,0 A4.4,4.4 0 0 1 -4.4,0 Z" fill="#080808"/><path d="M-4.2,0.6 L-1.2,-0.8 L-1.2,1Z" fill="#5a96d8"/></g>
<g transform="translate(623.4,428.0)"><circle r="4.6" fill="#fff" stroke="#2a2a2a" stroke-width="0.9"/><path d="M-3.92,-2.00 L3.92,-2.00 A4.4,4.4 0 1 1 -3.92,-2.00Z" fill="#151515"/><path d="M-4.36,0.60 L4.36,0.60 A4.4,4.4 0 0 1 -4.36,0.60Z" fill="#4a86d8"/><rect x="-2.6" y="-1.1" width="5.2" height="0.8" fill="#ddd"/></g>
<g transform="translate(649.0,414.7)"><circle r="4.6" fill="#fff" stroke="#2a2a2a" stroke-width="0.9"/><path d="M-3.92,-2.00 L3.92,-2.00 A4.4,4.4 0 1 1 -3.92,-2.00Z" fill="#151515"/><path d="M-4.36,0.60 L4.36,0.60 A4.4,4.4 0 0 1 -4.36,0.60Z" fill="#4a86d8"/><rect x="-2.6" y="-1.1" width="5.2" height="0.8" fill="#ddd"/></g>
<g transform="translate(660.0,413.4)"><circle r="4.6" fill="#fff" stroke="#e8b870" stroke-width="0.9"/><path d="M-4.3,0.9 L3.4,-2.8 L4.4,0 A4.4,4.4 0 0 1 -4.4,0 Z" fill="#080808"/><path d="M-4.2,0.6 L-1.2,-0.8 L-1.2,1Z" fill="#5a96d8"/></g>
<g transform="translate(681.0,417.8)"><circle r="4.6" fill="#fff" stroke="#b84ab8" stroke-width="0.8"/><path d="M-4.34,-0.70 Q0,-1.90 4.34,-0.70 A4.4,4.4 0 1 1 -4.34,-0.70Z" fill="#080808"/><path d="M-2.2,-0.6 L-1,-2.4 L1,-2.4 L2.2,-0.6Z" fill="#080808"/></g>
<g transform="translate(708.8,402.8)"><circle r="4.6" fill="#fff" stroke="#b84ab8" stroke-width="0.8"/><path d="M-4.34,-0.70 Q0,-1.90 4.34,-0.70 A4.4,4.4 0 1 1 -4.34,-0.70Z" fill="#080808"/><path d="M-2.2,-0.6 L-1,-2.4 L1,-2.4 L2.2,-0.6Z" fill="#080808"/></g>
<g transform="translate(733.8,413.2)"><circle r="4.6" fill="#fff" stroke="#b84ab8" stroke-width="0.8"/><path d="M-4.34,-0.70 Q0,-1.90 4.34,-0.70 A4.4,4.4 0 1 1 -4.34,-0.70Z" fill="#080808"/><path d="M-2.2,-0.6 L-1,-2.4 L1,-2.4 L2.2,-0.6Z" fill="#080808"/></g>
<g transform="translate(711.5,372.3)"><circle r="4.6" fill="#fff" stroke="#b84ab8" stroke-width="0.8"/><path d="M-4.34,-0.70 Q0,-1.90 4.34,-0.70 A4.4,4.4 0 1 1 -4.34,-0.70Z" fill="#080808"/><path d="M-2.2,-0.6 L-1,-2.4 L1,-2.4 L2.2,-0.6Z" fill="#080808"/></g>
<g transform="translate(544.6,440.3)"><circle r="4.6" fill="#fff" stroke="#b4d882" stroke-width="0.8"/><path d="M-4.34,-0.70 Q0,-1.90 4.34,-0.70 A4.4,4.4 0 1 1 -4.34,-0.70Z" fill="#080808"/></g>
<g transform="translate(612.3,496.7)"><circle r="4.6" fill="#fff" stroke="#e8b870" stroke-width="0.9"/><path d="M-4.3,0.9 L3.4,-2.8 L4.4,0 A4.4,4.4 0 0 1 -4.4,0 Z" fill="#080808"/><path d="M-4.2,0.6 L-1.2,-0.8 L-1.2,1Z" fill="#5a96d8"/></g>
<g transform="translate(629.0,496.7)"><circle r="4.6" fill="#fff" stroke="#e3a884" stroke-width="0.8"/><path d="M-4.34,-0.70 Q0,-1.90 4.34,-0.70 A4.4,4.4 0 1 1 -4.34,-0.70Z" fill="#080808"/><path d="M-2.2,-0.6 L-1,-2.4 L1,-2.4 L2.2,-0.6Z" fill="#080808"/></g>
<g transform="translate(636.0,497.4)"><circle r="4.6" fill="#fff" stroke="#e3a884" stroke-width="0.8"/><path d="M-4.34,-0.70 Q0,-1.90 4.34,-0.70 A4.4,4.4 0 1 1 -4.34,-0.70Z" fill="#080808"/><path d="M-2.2,-0.6 L-1,-2.4 L1,-2.4 L2.2,-0.6Z" fill="#080808"/></g>
<g transform="translate(647.0,230.7)"><circle r="4.6" fill="#fff" stroke="#2a2a2a" stroke-width="0.9"/><path d="M-3.92,-2.00 L3.92,-2.00 A4.4,4.4 0 1 1 -3.92,-2.00Z" fill="#151515"/><path d="M-4.36,0.60 L4.36,0.60 A4.4,4.4 0 0 1 -4.36,0.60Z" fill="#4a86d8"/><rect x="-2.6" y="-1.1" width="5.2" height="0.8" fill="#ddd"/></g>
<g transform="translate(725.5,227.0)"><circle r="4.6" fill="#fff" stroke="#e8b870" stroke-width="0.9"/><path d="M-4.3,0.9 L3.4,-2.8 L4.4,0 A4.4,4.4 0 0 1 -4.4,0 Z" fill="#080808"/><path d="M-4.2,0.6 L-1.2,-0.8 L-1.2,1Z" fill="#5a96d8"/></g>
<g transform="translate(758.7,195.6)"><circle r="4.6" fill="#fff" stroke="#b84ab8" stroke-width="0.8"/><path d="M-4.34,-0.70 Q0,-1.90 4.34,-0.70 A4.4,4.4 0 1 1 -4.34,-0.70Z" fill="#080808"/><path d="M-2.2,-0.6 L-1,-2.4 L1,-2.4 L2.2,-0.6Z" fill="#080808"/></g>
<g transform="translate(801.4,221.5)"><circle r="4.6" fill="#fff" stroke="#b4d882" stroke-width="0.8"/><path d="M-4.34,-0.70 Q0,-1.90 4.34,-0.70 A4.4,4.4 0 1 1 -4.34,-0.70Z" fill="#080808"/></g>
<g transform="translate(823.0,224.0)"><circle r="4.6" fill="#fff" stroke="#b4d882" stroke-width="0.8"/><path d="M-4.34,-0.70 Q0,-1.90 4.34,-0.70 A4.4,4.4 0 1 1 -4.34,-0.70Z" fill="#080808"/></g>
<g transform="translate(839.8,228.0)"><circle r="4.6" fill="#fff" stroke="#b84ab8" stroke-width="0.8"/><path d="M-4.34,-0.70 Q0,-1.90 4.34,-0.70 A4.4,4.4 0 1 1 -4.34,-0.70Z" fill="#080808"/><path d="M-2.2,-0.6 L-1,-2.4 L1,-2.4 L2.2,-0.6Z" fill="#080808"/></g>
<g transform="translate(725.5,269.2)"><circle r="4.6" fill="#f3e6b0" stroke="#b8b070" stroke-width="0.9"/><path d="M-4.38,-0.40 L4.38,-0.40 A4.4,4.4 0 1 1 -4.38,-0.40Z" fill="#151515"/><rect x="-2.8" y="2.2" width="5.6" height="1.6" fill="#3a6ab0"/></g>
<g transform="translate(768.7,274.6)"><circle r="4.6" fill="#fff" stroke="#b84ab8" stroke-width="0.8"/><path d="M-4.34,-0.70 Q0,-1.90 4.34,-0.70 A4.4,4.4 0 1 1 -4.34,-0.70Z" fill="#080808"/><path d="M-2.2,-0.6 L-1,-2.4 L1,-2.4 L2.2,-0.6Z" fill="#080808"/></g>
<g transform="translate(777.5,273.0)"><circle r="4.6" fill="#fff" stroke="#b84ab8" stroke-width="0.8"/><path d="M-4.34,-0.70 Q0,-1.90 4.34,-0.70 A4.4,4.4 0 1 1 -4.34,-0.70Z" fill="#080808"/><path d="M-2.2,-0.6 L-1,-2.4 L1,-2.4 L2.2,-0.6Z" fill="#080808"/></g>
<g transform="translate(785.2,272.0)"><circle r="4.6" fill="#fff" stroke="#b84ab8" stroke-width="0.8"/><path d="M-4.34,-0.70 Q0,-1.90 4.34,-0.70 A4.4,4.4 0 1 1 -4.34,-0.70Z" fill="#080808"/><path d="M-2.2,-0.6 L-1,-2.4 L1,-2.4 L2.2,-0.6Z" fill="#080808"/></g>
<g transform="translate(768.0,283.6)"><circle r="4.6" fill="#fff" stroke="#b84ab8" stroke-width="0.8"/><path d="M-4.34,-0.70 Q0,-1.90 4.34,-0.70 A4.4,4.4 0 1 1 -4.34,-0.70Z" fill="#080808"/><path d="M-2.2,-0.6 L-1,-2.4 L1,-2.4 L2.2,-0.6Z" fill="#080808"/></g>
<g transform="translate(748.5,290.0)"><circle r="4.6" fill="#fff" stroke="#b84ab8" stroke-width="0.8"/><path d="M-4.34,-0.70 Q0,-1.90 4.34,-0.70 A4.4,4.4 0 1 1 -4.34,-0.70Z" fill="#080808"/><path d="M-2.2,-0.6 L-1,-2.4 L1,-2.4 L2.2,-0.6Z" fill="#080808"/></g>
<g transform="translate(812.6,264.8)"><circle r="4.6" fill="#fff" stroke="#b4d882" stroke-width="0.8"/><path d="M-4.34,-0.70 Q0,-1.90 4.34,-0.70 A4.4,4.4 0 1 1 -4.34,-0.70Z" fill="#080808"/></g>
<g transform="translate(823.0,273.0)"><circle r="4.6" fill="#fff" stroke="#e8b870" stroke-width="0.9"/><path d="M-4.3,0.9 L3.4,-2.8 L4.4,0 A4.4,4.4 0 0 1 -4.4,0 Z" fill="#080808"/><path d="M-4.2,0.6 L-1.2,-0.8 L-1.2,1Z" fill="#5a96d8"/></g>
<g transform="translate(812.3,277.2)"><circle r="4.6" fill="#fff" stroke="#b84ab8" stroke-width="0.8"/><path d="M-4.34,-0.70 Q0,-1.90 4.34,-0.70 A4.4,4.4 0 1 1 -4.34,-0.70Z" fill="#080808"/><path d="M-2.2,-0.6 L-1,-2.4 L1,-2.4 L2.2,-0.6Z" fill="#080808"/></g>
<g transform="translate(798.2,284.0)"><circle r="4.6" fill="#fff" stroke="#2a2a2a" stroke-width="0.9"/><path d="M-3.92,-2.00 L3.92,-2.00 A4.4,4.4 0 1 1 -3.92,-2.00Z" fill="#151515"/><path d="M-4.36,0.60 L4.36,0.60 A4.4,4.4 0 0 1 -4.36,0.60Z" fill="#4a86d8"/><rect x="-2.6" y="-1.1" width="5.2" height="0.8" fill="#ddd"/></g>
<g transform="translate(814.4,297.0)"><circle r="4.6" fill="#fff" stroke="#b84ab8" stroke-width="0.8"/><path d="M-4.34,-0.70 Q0,-1.90 4.34,-0.70 A4.4,4.4 0 1 1 -4.34,-0.70Z" fill="#080808"/><path d="M-2.2,-0.6 L-1,-2.4 L1,-2.4 L2.2,-0.6Z" fill="#080808"/></g>
<g transform="translate(819.0,304.0)"><circle r="4.6" fill="#fff" stroke="#2a2a2a" stroke-width="0.9"/><path d="M-3.92,-2.00 L3.92,-2.00 A4.4,4.4 0 1 1 -3.92,-2.00Z" fill="#151515"/><path d="M-4.36,0.60 L4.36,0.60 A4.4,4.4 0 0 1 -4.36,0.60Z" fill="#4a86d8"/><rect x="-2.6" y="-1.1" width="5.2" height="0.8" fill="#ddd"/></g>
<g transform="translate(857.5,306.5)"><circle r="4.6" fill="#fff" stroke="#e8b870" stroke-width="0.9"/><path d="M-4.3,0.9 L3.4,-2.8 L4.4,0 A4.4,4.4 0 0 1 -4.4,0 Z" fill="#080808"/><path d="M-4.2,0.6 L-1.2,-0.8 L-1.2,1Z" fill="#5a96d8"/></g>
<g transform="translate(877.2,294.8)"><circle r="4.6" fill="#fff" stroke="#e8b870" stroke-width="0.9"/><path d="M-4.3,0.9 L3.4,-2.8 L4.4,0 A4.4,4.4 0 0 1 -4.4,0 Z" fill="#080808"/><path d="M-4.2,0.6 L-1.2,-0.8 L-1.2,1Z" fill="#5a96d8"/></g>
<g transform="translate(872.8,318.0)"><circle r="4.6" fill="#fff" stroke="#2a2a2a" stroke-width="0.9"/><path d="M-3.92,-2.00 L3.92,-2.00 A4.4,4.4 0 1 1 -3.92,-2.00Z" fill="#151515"/><path d="M-4.36,0.60 L4.36,0.60 A4.4,4.4 0 0 1 -4.36,0.60Z" fill="#4a86d8"/><rect x="-2.6" y="-1.1" width="5.2" height="0.8" fill="#ddd"/></g>
<g transform="translate(923.8,323.5)"><circle r="4.6" fill="#fff" stroke="#5a7ac8" stroke-width="0.9"/><path d="M-4.17,-1.40 L4.17,-1.40 A4.4,4.4 0 1 1 -4.17,-1.40Z" fill="#4a86d8"/><path d="M-4.39,-0.30 L4.39,-0.30 A4.4,4.4 0 1 1 -4.39,-0.30Z" fill="#080808"/></g>
<g transform="translate(824.0,326.6)"><circle r="4.6" fill="#fff" stroke="#b4d882" stroke-width="0.8"/><path d="M-4.34,-0.70 Q0,-1.90 4.34,-0.70 A4.4,4.4 0 1 1 -4.34,-0.70Z" fill="#080808"/></g>
<g transform="translate(672.0,312.5)"><circle r="4.6" fill="#fff" stroke="#b84ab8" stroke-width="0.8"/><path d="M-4.34,-0.70 Q0,-1.90 4.34,-0.70 A4.4,4.4 0 1 1 -4.34,-0.70Z" fill="#080808"/><path d="M-2.2,-0.6 L-1,-2.4 L1,-2.4 L2.2,-0.6Z" fill="#080808"/></g>
<g transform="translate(716.0,309.7)"><circle r="4.6" fill="#fff" stroke="#b84ab8" stroke-width="0.8"/><path d="M-4.34,-0.70 Q0,-1.90 4.34,-0.70 A4.4,4.4 0 1 1 -4.34,-0.70Z" fill="#080808"/><path d="M-2.2,-0.6 L-1,-2.4 L1,-2.4 L2.2,-0.6Z" fill="#080808"/></g>
<g transform="translate(668.8,338.0)"><circle r="4.6" fill="#fff" stroke="#b4d882" stroke-width="0.8"/><path d="M-4.34,-0.70 Q0,-1.90 4.34,-0.70 A4.4,4.4 0 1 1 -4.34,-0.70Z" fill="#080808"/></g>
<g transform="translate(781.0,312.8)"><circle r="4.6" fill="#fff" stroke="#b84ab8" stroke-width="0.8"/><path d="M-4.34,-0.70 Q0,-1.90 4.34,-0.70 A4.4,4.4 0 1 1 -4.34,-0.70Z" fill="#080808"/><path d="M-2.2,-0.6 L-1,-2.4 L1,-2.4 L2.2,-0.6Z" fill="#080808"/></g>
<g transform="translate(764.0,312.7)"><circle r="4.6" fill="#fff" stroke="#b4d882" stroke-width="0.8"/><path d="M-4.34,-0.70 Q0,-1.90 4.34,-0.70 A4.4,4.4 0 1 1 -4.34,-0.70Z" fill="#080808"/></g>
<g transform="translate(764.0,330.7)"><circle r="4.6" fill="#fff" stroke="#b4d882" stroke-width="0.8"/><path d="M-4.34,-0.70 Q0,-1.90 4.34,-0.70 A4.4,4.4 0 1 1 -4.34,-0.70Z" fill="#080808"/></g>
<g transform="translate(777.0,332.7)"><circle r="4.6" fill="#fff" stroke="#b84ab8" stroke-width="0.8"/><path d="M-4.34,-0.70 Q0,-1.90 4.34,-0.70 A4.4,4.4 0 1 1 -4.34,-0.70Z" fill="#080808"/><path d="M-2.2,-0.6 L-1,-2.4 L1,-2.4 L2.2,-0.6Z" fill="#080808"/></g>
<g transform="translate(730.0,338.0)"><circle r="4.6" fill="#fff" stroke="#e8b870" stroke-width="0.9"/><path d="M-4.3,0.9 L3.4,-2.8 L4.4,0 A4.4,4.4 0 0 1 -4.4,0 Z" fill="#080808"/><path d="M-4.2,0.6 L-1.2,-0.8 L-1.2,1Z" fill="#5a96d8"/></g>
<g transform="translate(765.8,337.8)"><circle r="4.6" fill="#fff" stroke="#e8b870" stroke-width="0.9"/><path d="M-4.3,0.9 L3.4,-2.8 L4.4,0 A4.4,4.4 0 0 1 -4.4,0 Z" fill="#080808"/><path d="M-4.2,0.6 L-1.2,-0.8 L-1.2,1Z" fill="#5a96d8"/></g>
<g transform="translate(772.9,339.0)"><circle r="4.6" fill="#fff" stroke="#2a2a2a" stroke-width="0.9"/><path d="M-3.92,-2.00 L3.92,-2.00 A4.4,4.4 0 1 1 -3.92,-2.00Z" fill="#151515"/><path d="M-4.36,0.60 L4.36,0.60 A4.4,4.4 0 0 1 -4.36,0.60Z" fill="#4a86d8"/><rect x="-2.6" y="-1.1" width="5.2" height="0.8" fill="#ddd"/></g>
<g transform="translate(753.0,344.6)"><circle r="4.6" fill="#fff" stroke="#e8b870" stroke-width="0.9"/><path d="M-4.3,0.9 L3.4,-2.8 L4.4,0 A4.4,4.4 0 0 1 -4.4,0 Z" fill="#080808"/><path d="M-4.2,0.6 L-1.2,-0.8 L-1.2,1Z" fill="#5a96d8"/></g>
<g transform="translate(767.5,349.0)"><circle r="4.6" fill="#fff" stroke="#e8b870" stroke-width="0.9"/><path d="M-4.3,0.9 L3.4,-2.8 L4.4,0 A4.4,4.4 0 0 1 -4.4,0 Z" fill="#080808"/><path d="M-4.2,0.6 L-1.2,-0.8 L-1.2,1Z" fill="#5a96d8"/></g>
<g transform="translate(776.0,352.0)"><circle r="4.6" fill="#fff" stroke="#b84ab8" stroke-width="0.8"/><path d="M-4.34,-0.70 Q0,-1.90 4.34,-0.70 A4.4,4.4 0 1 1 -4.34,-0.70Z" fill="#080808"/><path d="M-2.2,-0.6 L-1,-2.4 L1,-2.4 L2.2,-0.6Z" fill="#080808"/></g>
<g transform="translate(786.5,356.5)"><circle r="4.6" fill="#fff" stroke="#b4d882" stroke-width="0.8"/><path d="M-4.34,-0.70 Q0,-1.90 4.34,-0.70 A4.4,4.4 0 1 1 -4.34,-0.70Z" fill="#080808"/></g>
<g transform="translate(793.0,360.5)"><circle r="4.6" fill="#fff" stroke="#b4d882" stroke-width="0.8"/><path d="M-4.34,-0.70 Q0,-1.90 4.34,-0.70 A4.4,4.4 0 1 1 -4.34,-0.70Z" fill="#080808"/></g>
<g transform="translate(777.0,361.5)"><circle r="4.6" fill="#fff" stroke="#5a7ac8" stroke-width="0.9"/><path d="M-4.17,-1.40 L4.17,-1.40 A4.4,4.4 0 1 1 -4.17,-1.40Z" fill="#4a86d8"/><path d="M-4.39,-0.30 L4.39,-0.30 A4.4,4.4 0 1 1 -4.39,-0.30Z" fill="#080808"/></g>
<g transform="translate(784.5,361.8)"><circle r="4.6" fill="#fff" stroke="#b4d882" stroke-width="0.8"/><path d="M-4.34,-0.70 Q0,-1.90 4.34,-0.70 A4.4,4.4 0 1 1 -4.34,-0.70Z" fill="#080808"/></g>
<g transform="translate(782.0,367.0)"><circle r="4.6" fill="#fff" stroke="#b4d882" stroke-width="0.8"/><path d="M-4.34,-0.70 Q0,-1.90 4.34,-0.70 A4.4,4.4 0 1 1 -4.34,-0.70Z" fill="#080808"/></g>
<g transform="translate(760.5,364.0)"><circle r="4.6" fill="#fff" stroke="#e8b870" stroke-width="0.9"/><path d="M-4.3,0.9 L3.4,-2.8 L4.4,0 A4.4,4.4 0 0 1 -4.4,0 Z" fill="#080808"/><path d="M-4.2,0.6 L-1.2,-0.8 L-1.2,1Z" fill="#5a96d8"/></g>
<g transform="translate(758.0,373.5)"><circle r="4.6" fill="#fff" stroke="#e8b870" stroke-width="0.9"/><path d="M-4.3,0.9 L3.4,-2.8 L4.4,0 A4.4,4.4 0 0 1 -4.4,0 Z" fill="#080808"/><path d="M-4.2,0.6 L-1.2,-0.8 L-1.2,1Z" fill="#5a96d8"/></g>
<g transform="translate(772.0,372.0)"><circle r="4.6" fill="#fff" stroke="#e8b870" stroke-width="0.9"/><path d="M-4.3,0.9 L3.4,-2.8 L4.4,0 A4.4,4.4 0 0 1 -4.4,0 Z" fill="#080808"/><path d="M-4.2,0.6 L-1.2,-0.8 L-1.2,1Z" fill="#5a96d8"/></g>
<g transform="translate(768.0,378.5)"><circle r="4.6" fill="#fff" stroke="#b4d882" stroke-width="0.8"/><path d="M-4.34,-0.70 Q0,-1.90 4.34,-0.70 A4.4,4.4 0 1 1 -4.34,-0.70Z" fill="#080808"/></g>
<g transform="translate(824.5,377.5)"><circle r="4.6" fill="#fff" stroke="#b4d882" stroke-width="0.8"/><path d="M-4.34,-0.70 Q0,-1.90 4.34,-0.70 A4.4,4.4 0 1 1 -4.34,-0.70Z" fill="#080808"/></g>
<g transform="translate(823.0,382.5)"><circle r="4.6" fill="#fff" stroke="#b4d882" stroke-width="0.8"/><path d="M-4.34,-0.70 Q0,-1.90 4.34,-0.70 A4.4,4.4 0 1 1 -4.34,-0.70Z" fill="#080808"/></g>
<g transform="translate(833.0,384.2)"><circle r="4.6" fill="#fff" stroke="#2a2a2a" stroke-width="0.9"/><path d="M-3.92,-2.00 L3.92,-2.00 A4.4,4.4 0 1 1 -3.92,-2.00Z" fill="#151515"/><path d="M-4.36,0.60 L4.36,0.60 A4.4,4.4 0 0 1 -4.36,0.60Z" fill="#4a86d8"/><rect x="-2.6" y="-1.1" width="5.2" height="0.8" fill="#ddd"/></g>
<g transform="translate(818.0,404.5)"><circle r="4.6" fill="#fff" stroke="#e8b870" stroke-width="0.9"/><path d="M-4.3,0.9 L3.4,-2.8 L4.4,0 A4.4,4.4 0 0 1 -4.4,0 Z" fill="#080808"/><path d="M-4.2,0.6 L-1.2,-0.8 L-1.2,1Z" fill="#5a96d8"/></g>
<g transform="translate(856.6,397.2)"><circle r="4.6" fill="#fff" stroke="#b84ab8" stroke-width="0.8"/><path d="M-4.34,-0.70 Q0,-1.90 4.34,-0.70 A4.4,4.4 0 1 1 -4.34,-0.70Z" fill="#080808"/><path d="M-2.2,-0.6 L-1,-2.4 L1,-2.4 L2.2,-0.6Z" fill="#080808"/></g>
<g transform="translate(884.3,425.0)"><circle r="4.6" fill="#fff" stroke="#b4d882" stroke-width="0.8"/><path d="M-4.34,-0.70 Q0,-1.90 4.34,-0.70 A4.4,4.4 0 1 1 -4.34,-0.70Z" fill="#080808"/></g>
<g transform="translate(900.6,431.5)"><circle r="4.6" fill="#fff" stroke="#b4d882" stroke-width="0.8"/><path d="M-4.34,-0.70 Q0,-1.90 4.34,-0.70 A4.4,4.4 0 1 1 -4.34,-0.70Z" fill="#080808"/></g>
<g transform="translate(903.6,440.8)"><circle r="4.6" fill="#fff" stroke="#b4d882" stroke-width="0.8"/><path d="M-4.34,-0.70 Q0,-1.90 4.34,-0.70 A4.4,4.4 0 1 1 -4.34,-0.70Z" fill="#080808"/></g>
<g transform="translate(747.0,429.0)"><circle r="4.6" fill="#f3e6b0" stroke="#b8b070" stroke-width="0.9"/><path d="M-4.38,-0.40 L4.38,-0.40 A4.4,4.4 0 1 1 -4.38,-0.40Z" fill="#151515"/><rect x="-2.8" y="2.2" width="5.6" height="1.6" fill="#3a6ab0"/></g>
<g transform="translate(816.6,433.0)"><circle r="4.6" fill="#fff" stroke="#e3a884" stroke-width="0.8"/><path d="M-4.34,-0.70 Q0,-1.90 4.34,-0.70 A4.4,4.4 0 1 1 -4.34,-0.70Z" fill="#080808"/><path d="M-2.2,-0.6 L-1,-2.4 L1,-2.4 L2.2,-0.6Z" fill="#080808"/></g>
<g transform="translate(842.0,432.0)"><circle r="4.6" fill="#fff" stroke="#e3a884" stroke-width="0.8"/><path d="M-4.34,-0.70 Q0,-1.90 4.34,-0.70 A4.4,4.4 0 1 1 -4.34,-0.70Z" fill="#080808"/><path d="M-2.2,-0.6 L-1,-2.4 L1,-2.4 L2.2,-0.6Z" fill="#080808"/></g>
<g transform="translate(853.0,433.0)"><circle r="4.6" fill="#fff" stroke="#e3a884" stroke-width="0.8"/><path d="M-4.34,-0.70 Q0,-1.90 4.34,-0.70 A4.4,4.4 0 1 1 -4.34,-0.70Z" fill="#080808"/><path d="M-2.2,-0.6 L-1,-2.4 L1,-2.4 L2.2,-0.6Z" fill="#080808"/></g>
<g transform="translate(864.0,435.8)"><circle r="4.6" fill="#fff" stroke="#e3a884" stroke-width="0.8"/><path d="M-4.34,-0.70 Q0,-1.90 4.34,-0.70 A4.4,4.4 0 1 1 -4.34,-0.70Z" fill="#080808"/><path d="M-2.2,-0.6 L-1,-2.4 L1,-2.4 L2.2,-0.6Z" fill="#080808"/></g>
<g transform="translate(871.8,439.0)"><circle r="4.6" fill="#fff" stroke="#e3a884" stroke-width="0.8"/><path d="M-4.34,-0.70 Q0,-1.90 4.34,-0.70 A4.4,4.4 0 1 1 -4.34,-0.70Z" fill="#080808"/><path d="M-2.2,-0.6 L-1,-2.4 L1,-2.4 L2.2,-0.6Z" fill="#080808"/></g>
<g transform="translate(874.8,448.5)"><circle r="4.6" fill="#fff" stroke="#e3a884" stroke-width="0.8"/><path d="M-4.34,-0.70 Q0,-1.90 4.34,-0.70 A4.4,4.4 0 1 1 -4.34,-0.70Z" fill="#080808"/><path d="M-2.2,-0.6 L-1,-2.4 L1,-2.4 L2.2,-0.6Z" fill="#080808"/></g>
<g transform="translate(880.5,445.8)"><circle r="4.6" fill="#fff" stroke="#e3a884" stroke-width="0.8"/><path d="M-4.34,-0.70 Q0,-1.90 4.34,-0.70 A4.4,4.4 0 1 1 -4.34,-0.70Z" fill="#080808"/><path d="M-2.2,-0.6 L-1,-2.4 L1,-2.4 L2.2,-0.6Z" fill="#080808"/></g>
<g transform="translate(889.8,446.5)"><circle r="4.6" fill="#fff" stroke="#e3a884" stroke-width="0.8"/><path d="M-4.34,-0.70 Q0,-1.90 4.34,-0.70 A4.4,4.4 0 1 1 -4.34,-0.70Z" fill="#080808"/><path d="M-2.2,-0.6 L-1,-2.4 L1,-2.4 L2.2,-0.6Z" fill="#080808"/></g>
<g transform="translate(892.0,451.0)"><circle r="4.6" fill="#fff" stroke="#e3a884" stroke-width="0.8"/><path d="M-4.34,-0.70 Q0,-1.90 4.34,-0.70 A4.4,4.4 0 1 1 -4.34,-0.70Z" fill="#080808"/><path d="M-2.2,-0.6 L-1,-2.4 L1,-2.4 L2.2,-0.6Z" fill="#080808"/></g>
<g transform="translate(907.6,462.0)"><circle r="4.6" fill="#fff" stroke="#e3a884" stroke-width="0.8"/><path d="M-4.34,-0.70 Q0,-1.90 4.34,-0.70 A4.4,4.4 0 1 1 -4.34,-0.70Z" fill="#080808"/><path d="M-2.2,-0.6 L-1,-2.4 L1,-2.4 L2.2,-0.6Z" fill="#080808"/></g>
<g transform="translate(799.0,449.5)"><circle r="4.6" fill="#fff" stroke="#b84ab8" stroke-width="0.8"/><path d="M-4.34,-0.70 Q0,-1.90 4.34,-0.70 A4.4,4.4 0 1 1 -4.34,-0.70Z" fill="#080808"/><path d="M-2.2,-0.6 L-1,-2.4 L1,-2.4 L2.2,-0.6Z" fill="#080808"/></g>
<g transform="translate(784.0,463.0)"><circle r="4.6" fill="#fff" stroke="#e3a884" stroke-width="0.8"/><path d="M-4.34,-0.70 Q0,-1.90 4.34,-0.70 A4.4,4.4 0 1 1 -4.34,-0.70Z" fill="#080808"/><path d="M-2.2,-0.6 L-1,-2.4 L1,-2.4 L2.2,-0.6Z" fill="#080808"/></g>
<g transform="translate(755.0,459.6)"><circle r="4.6" fill="#f3e6b0" stroke="#b8b070" stroke-width="0.9"/><path d="M-4.38,-0.40 L4.38,-0.40 A4.4,4.4 0 1 1 -4.38,-0.40Z" fill="#151515"/><rect x="-2.8" y="2.2" width="5.6" height="1.6" fill="#3a6ab0"/></g>
<g transform="translate(745.0,484.3)"><circle r="4.6" fill="#fff" stroke="#e3a884" stroke-width="0.8"/><path d="M-4.34,-0.70 Q0,-1.90 4.34,-0.70 A4.4,4.4 0 1 1 -4.34,-0.70Z" fill="#080808"/><path d="M-2.2,-0.6 L-1,-2.4 L1,-2.4 L2.2,-0.6Z" fill="#080808"/></g>
<g transform="translate(765.7,482.0)"><circle r="4.6" fill="#fff" stroke="#e3a884" stroke-width="0.8"/><path d="M-4.34,-0.70 Q0,-1.90 4.34,-0.70 A4.4,4.4 0 1 1 -4.34,-0.70Z" fill="#080808"/><path d="M-2.2,-0.6 L-1,-2.4 L1,-2.4 L2.2,-0.6Z" fill="#080808"/></g>
<text class="lb" x="96.5" y="269.4">CS-34</text>
<text class="lb" x="89.0" y="291.8">LA-21-1</text>
<text class="lb" x="121.0" y="289.5">CS-28-2</text>
<text class="lb" x="94.0" y="310.8">CS-28</text>
<text class="lb" x="37.6" y="307.8">CS-32</text>
<text class="lb" x="191.8" y="298.2">CS-29</text>
<text class="lb" x="171.8" y="316.8">CS-04a</text>
<text class="lb" x="131.6" y="331.3">CS-33</text>
<text class="lb" x="173.0" y="334.8">CS-47 (EB)</text>
<text class="lb" x="243.0" y="315.5">ME-21</text>
<text class="lb" x="261.4" y="325.5">ME-21 (EB)</text>
<text class="lb" x="235.9" y="344.3">ME-20</text>
<text class="lb" x="243.0" y="361.4">LA-08</text>
<text class="lb" x="252.7" y="370.7">ME-18 (EB)</text>
<text class="lb" x="314.8" y="361.4">TV-60</text>
<text class="lb" x="332.9" y="371.8">ME-25 SF</text>
<text class="lb" x="290.0" y="382.8">TV-11b (EB)</text>
<text class="lb" x="325.4" y="332.8">TV-11b (EB)</text>
<text class="lb" x="427.8" y="268.3">TV-31</text>
<text class="lb" x="435.0" y="290.8">TV-30</text>
<text class="lb" x="407.0" y="306.8">TV-28</text>
<text class="lb" x="431.5" y="330.5">LA-16</text>
<text class="lb" x="496.5" y="327.8">TV-52</text>
<text class="lb" x="560.0" y="344.8">TE-116</text>
<text class="lb" x="532.3" y="362.8">AT-05</text>
<text class="lb" x="433.9" y="382.8">TV-21</text>
<text class="lb" x="607.3" y="265.7">BA-25</text>
<text class="lb" x="596.0" y="251.8">BA-84</text>
<text class="lb" x="579.0" y="385.8">TE-43</text>
<text class="lb" x="612.4" y="377.6">TE-43 (EB)</text>
<text class="lb" x="576.6" y="406.6">TE-34</text>
<text class="lb" x="555.6" y="427.5">TE-72</text>
<text class="lb" x="582.7" y="441.8">TE-82</text>
<text class="lb" x="607.3" y="442.6">TE-44</text>
<text class="lb" x="618.6" y="422.5">TE-39</text>
<text class="lb" x="638.4" y="407.8">TE-83</text>
<text class="lb" x="663.0" y="409.4">TE-46</text>
<text class="lb" x="685.7" y="420.8">TE-64</text>
<text class="lb" x="686.8" y="397.0">TE-78</text>
<text class="lb" x="714.5" y="424.8">TE-65</text>
<text class="lb" x="690.7" y="365.8">TE-111</text>
<text class="lb" x="549.0" y="451.8">LA-01f</text>
<text class="lb" x="589.0" y="491.8">TE-48</text>
<text class="lb" x="626.6" y="490.2">TE-50</text>
<text class="lb" x="604.0" y="509.5">TE-100</text>
<text class="lb" x="641.7" y="505.3">TE-53</text>
<text class="lb" x="652.8" y="224.8">PO-142</text>
<text class="lb" x="730.0" y="220.5">PO-146</text>
<text class="lb" x="765.0" y="198.4">PO-87</text>
<text class="lb" x="792.6" y="230.5">PO-33</text>
<text class="lb" x="819.0" y="219.8">PO-104</text>
<text class="lb" x="846.0" y="235.5">PO-74-1</text>
<text class="lb" x="703.2" y="264.1">LA-09</text>
<text class="lb" x="753.4" y="269.1">PO-60</text>
<text class="lb" x="776.5" y="266.8">PO-64</text>
<text class="lb" x="741.5" y="283.8">PO-63</text>
<text class="lb" x="760.0" y="299.8">PO-73-2</text>
<text class="lb" x="736.5" y="306.8">BA-0153</text>
<text class="lb" x="770.0" y="308.6">BA-66</text>
<text class="lb" x="726.5" y="317.5">BA-0152</text>
<text class="lb" x="747.0" y="325.5">BA-0154</text>
<text class="lb" x="782.5" y="326.8">BA-75-2</text>
<text class="lb" x="724.7" y="331.8">BA-15-X2</text>
<text class="lb" x="782.4" y="339.8">BA-75-1</text>
<text class="lb" x="736.5" y="340.6">BA-83</text>
<text class="lb" x="780.0" y="349.3">BA-42</text>
<text class="lb" x="739.0" y="356.5">BA-20</text>
<text class="lb" x="761.6" y="359.4">LA-16</text>
<text class="lb" x="796.0" y="360.5">BA-43 (EB)</text>
<text class="lb" x="734.7" y="364.8">BA-48</text>
<text class="lb" x="788.2" y="370.8">BA-41</text>
<text class="lb" x="725.4" y="373.6">BA-27c</text>
<text class="lb" x="790.0" y="378.5">BA-0167</text>
<text class="lb" x="831.3" y="375.8">BA-141</text>
<text class="lb" x="797.0" y="388.6">BA-42</text>
<text class="lb" x="838.8" y="387.5">BA-04c</text>
<text class="lb" x="790.0" y="398.3">BA-0162-SPER</text>
<text class="lb" x="861.8" y="399.6">BA-67</text>
<text class="lb" x="736.7" y="388.0">BA-36</text>
<text class="lb" x="821.6" y="258.0">PO-145</text>
<text class="lb" x="817.6" y="271.1">PO-55</text>
<text class="lb" x="828.5" y="285.0">PO-36 (EB)</text>
<text class="lb" x="795.2" y="295.3">PO-73</text>
<text class="lb" x="824.0" y="298.0">PO-73-1</text>
<text class="lb" x="814.0" y="308.5">PO-61</text>
<text class="lb" x="863.0" y="308.6">PO-30</text>
<text class="lb" x="883.0" y="296.8">PO-72</text>
<text class="lb" x="865.3" y="330.0">PO-36 SF</text>
<text class="lb" x="925.0" y="316.8">PO-0148</text>
<text class="lb" x="832.2" y="328.8">BS-16</text>
<text class="lb" x="643.0" y="306.5">BA-169</text>
<text class="lb" x="691.5" y="304.8">BA-85</text>
<text class="lb" x="635.0" y="326.3">BA-0161</text>
<text class="lb" x="675.4" y="335.6">BA-0154</text>
<text class="lb" x="884.3" y="419.2">BA-58</text>
<text class="lb" x="910.6" y="435.5">BA-68</text>
<text class="lb" x="913.0" y="443.6">TE-109</text>
<text class="lb" x="751.2" y="425.6">BA-091</text>
<text class="lb" x="796.0" y="427.3">BA-30</text>
<text class="lb" x="826.0" y="427.3">BA-38</text>
<text class="lb" x="832.0" y="442.8">BA-35</text>
<text class="lb" x="875.0" y="441.8">BA-110</text>
<text class="lb" x="832.0" y="453.6">Shell West</text>
<text class="lb" x="870.5" y="460.8">BA-40</text>
<text class="lb" x="898.0" y="453.6">BA-38</text>
<text class="lb" x="834.0" y="469.4">Emergency Berms</text>
<text class="lb" x="767.7" y="445.8">BA-168</text>
<text class="lb" x="790.8" y="465.8">BA-143</text>
<text class="lb" x="729.8" y="458.6">BA-55</text>
<text class="lb" x="730.0" y="478.0">TE-52</text>
<text class="lb" x="771.5" y="484.8">BA-45</text>
<text x="564" y="181" font-size="3.6" fill="#eee">Baton</text><text x="564" y="185" font-size="3.6" fill="#eee">Rouge</text>
</g>
</g><g opacity="0.999">
<rect x="3" y="32.6" width="899.5" height="130" fill="#ffffff" fill-opacity="0.585"/>
<text x="131.3" y="81.8" font-size="38.2" font-weight="bold" fill="#000" stroke="#000" stroke-width="0.4" textLength="713" lengthAdjust="spacingAndGlyphs">Projects Constructed / In Construction</text>
<text x="127" y="116" font-size="25.3" fill="#000" stroke="#000" stroke-width="0.25" textLength="117" lengthAdjust="spacingAndGlyphs">Coastwide</text>
<text x="127" y="145.6" font-size="25.3" fill="#000" stroke="#000" stroke-width="0.25" textLength="178" lengthAdjust="spacingAndGlyphs">2008 – FY 2015</text>
<defs><path id="logoarc" d="M31.56,128.04 A40.6,40.6 0 1 1 92.84,128.04"/>
<radialGradient id="sun" cx="71.5" cy="86" r="30" gradientUnits="userSpaceOnUse"><stop offset="0" stop-color="#fffdf6"/><stop offset="0.25" stop-color="#fdf0d8"/><stop offset="1" stop-color="#f3c98a"/></radialGradient>
<clipPath id="logoclip"><circle cx="62.2" cy="101.4" r="32.4"/></clipPath></defs>
<circle cx="62.2" cy="101.4" r="33.6" fill="url(#sun)" stroke="#27306a" stroke-width="2.9"/>
<g clip-path="url(#logoclip)"><rect x="25" y="107.7" width="35" height="30" fill="#4f8a3a"/><rect x="25" y="107.7" width="35" height="6" fill="#6aa84a" opacity="0.6"/><path d="M60,107 q1.5,-1.6 3,0 q1.5,1.6 3,0 q1.5,-1.6 3,0 q1.5,1.6 3,0 q1.5,-1.6 3,0 q1.5,1.6 3,0 q1.5,-1.6 3,0 q1.5,1.6 3,0 q1.5,-1.6 3,0 q1.5,1.6 3,0 q1.5,-1.6 3,0 q1.5,1.6 3,0 q1.5,-1.6 3,0 V140 H60Z" fill="#3f62a8"/><g stroke="#8fc05a" stroke-width="0.9" fill="none" stroke-linecap="round"><path d="M40,108 Q41,96 38,88"/><path d="M43,108 Q44,94 47,84"/><path d="M46,108 Q46,96 50,89"/><path d="M49,108 Q51,97 53,86"/><path d="M37,108 Q36,100 33,96"/><path d="M52,108 Q54,100 52,93"/><path d="M44,108 Q42,99 42,92"/></g><path d="M58.7,98.3 L64.7,95.4 L64.7,130 L58.7,130Z" fill="#27306a"/></g>
<rect x="38" y="124.6" width="49" height="12.8" fill="#27306a"/>
<text x="62.5" y="135.3" font-size="12.8" font-weight="bold" fill="#fff" text-anchor="middle" textLength="41" lengthAdjust="spacingAndGlyphs">CPRA</text>
<text font-size="6.2" font-weight="bold" fill="#1a1a1a"><textPath href="#logoarc" textLength="184.7" lengthAdjust="spacing">COASTAL PROTECTION AND RESTORATION AUTHORITY</textPath></text>
<text class="lg" x="604.5" y="583.7">Barrier Island</text><text class="lg" x="604.5" y="593.5">Restoration</text>
<text class="lg" x="656.5" y="583.7">Sediment</text><text class="lg" x="656.5" y="593.5">Diversion</text>
<text class="lg" x="708.6" y="583.7">Structural</text><text class="lg" x="708.6" y="593.5">Protection</text>
<text class="lg" x="759.7" y="583.7">Oyster</text><text class="lg" x="759.7" y="593.5">Barrier Reef</text>
<text class="lg" x="815.6" y="583.7">Shoreline</text><text class="lg" x="815.6" y="593.5">Protection</text>
<text class="lg" x="872.0" y="583.7">Marsh</text><text class="lg" x="872.0" y="593.5">Creation</text>
<text class="lg" x="919.3" y="583.7">Hydrologic</text><text class="lg" x="919.3" y="593.5">Restoration</text>
<text class="lg" x="967.0" y="588.6">Other</text>
<defs><clipPath id="lc0"><circle cx="604.5" cy="617.6" r="16.2"/></clipPath><clipPath id="lc1"><circle cx="656.5" cy="617.6" r="16.2"/></clipPath><clipPath id="lc2"><circle cx="708.6" cy="617.6" r="16.2"/></clipPath><clipPath id="lc3"><circle cx="759.7" cy="617.6" r="16.2"/></clipPath><clipPath id="lc4"><circle cx="815.6" cy="617.6" r="16.2"/></clipPath><clipPath id="lc5"><circle cx="872.0" cy="617.6" r="16.2"/></clipPath><clipPath id="lc6"><circle cx="919.3" cy="616.6" r="16.2"/></clipPath><clipPath id="lc7"><circle cx="967.0" cy="616.6" r="16.2"/></clipPath><pattern id="hatch" width="3.2" height="3.2" patternUnits="userSpaceOnUse" patternTransform="rotate(-45)"><rect width="3.2" height="3.2" fill="#fff"/><rect width="1.1" height="3.2" fill="#d9854a"/></pattern>
<pattern id="dots" width="2.6" height="2.6" patternUnits="userSpaceOnUse"><rect width="2.6" height="2.6" fill="#c4baa4"/><circle cx="0.8" cy="0.8" r="0.45" fill="#94794e"/><circle cx="2.1" cy="2.1" r="0.4" fill="#94794e"/></pattern>
</defs>
<circle cx="604.5" cy="617.6" r="16.8" fill="#fff" stroke="#d9805a" stroke-width="1.5"/><g clip-path="url(#lc0)"><rect x="587.5" y="615.4" width="34" height="20" fill="#5b9bd5"/><path d="M586.5,636 L591.5,626 L598.0,611.5 Q599.0,609.6 600.0,609.6 L608.0,609.6 Q609.0,609.6 610.0,611.5 L616.5,626 L622.5,636Z" fill="#050505"/><rect x="586.5" y="626.5" width="36" height="12" fill="#050505"/></g>
<rect x="587.6" y="642.4" width="32.8" height="5.8" fill="url(#hatch)" stroke="#c9a27a" stroke-width="0.8"/>
<circle cx="656.5" cy="617.6" r="16.7" fill="#fff" stroke="#4a4234" stroke-width="1.5"/><g clip-path="url(#lc1)"><path d="M656.5,604.5 V608 M645.0,618.6 L656.5,607.5 L668.0,618.6" fill="none" stroke="#555" stroke-width="0.8"/><path d="M645.5,618.6 L656.5,608.5 L667.5,618.6 L656.5,630 Z" fill="#d8d8d8" fill-opacity="0.75"/><path d="M646.5,620 H666.5 M648.5,623 H664.5 M651.5,626 H661.5" stroke="#bbb" stroke-width="0.8" stroke-dasharray="1.2 1.2"/></g>
<rect x="640.6" y="642.4" width="32.6" height="5.8" fill="#e9e9dc" stroke="#8a8a52" stroke-width="1.1" stroke-dasharray="3.2 1.1"/><path d="M643,645.3 H671" stroke="#fff" stroke-width="1.8" stroke-dasharray="2.5 1.5"/>
<circle cx="708.6" cy="617.6" r="16.7" fill="#fff" stroke="#b01fa0" stroke-width="1.6"/><g clip-path="url(#lc2)"><rect x="690.6" y="621.4" width="36" height="16" fill="#050505"/><path d="M701.1,622 Q704.1,621 704.6,617 Q705.2,613.6 708.6,613.6 Q712.0,613.6 712.6,617 Q713.1,621 716.1,622Z" fill="#050505"/></g>
<path d="M691.8,645.3 H724.6" stroke="#b01fa0" stroke-width="1.7"/>
<circle cx="759.7" cy="617.6" r="16.7" fill="#fff" stroke="#2a3f8a" stroke-width="1.6"/><g clip-path="url(#lc3)"><rect x="741.7" y="612.6" width="36" height="24" fill="#4f8fd8"/><path d="M741.7,636 L746.2,626 Q747.7,620 752.7,619 Q757.7,617 761.7,617.6 Q766.7,617.6 769.7,620 Q772.2,622 773.2,627 L777.7,636Z" fill="#050505"/><rect x="741.7" y="627" width="36" height="10" fill="#050505"/></g>
<g fill="#3f78e8"><ellipse cx="743.5" cy="646.1" rx="3.2" ry="2.2"/><ellipse cx="748.0" cy="645.1" rx="3.0" ry="2.6"/><ellipse cx="752.5" cy="646.4" rx="2.6" ry="2.2"/><ellipse cx="756.5" cy="645.0" rx="2.8" ry="2.8"/><ellipse cx="761.0" cy="646.2" rx="3.0" ry="2.6"/><ellipse cx="765.5" cy="645.2" rx="2.6" ry="2.8"/><ellipse cx="769.5" cy="646.3" rx="2.8" ry="2.4"/><ellipse cx="774.0" cy="644.8" rx="3.0" ry="3.0"/><ellipse cx="777.0" cy="646.1" rx="2.0" ry="2.6"/></g>
<circle cx="815.6" cy="617.6" r="16.7" fill="#fff" stroke="#e0983a" stroke-width="1.6"/><g clip-path="url(#lc4)"><rect x="797.6" y="615.6" width="22" height="14" fill="#4f8fd8"/><path d="M797.6,636 L804.6,629 L808.6,624 L812.1,619 L815.1,614 L818.6,610.5 L822.6,608 L825.6,607.6 L833.6,609 L833.6,636Z" fill="#050505"/><rect x="797.6" y="628.6" width="36" height="10" fill="#050505"/></g>
<path d="M799.8,645.3 H833" stroke="#d9703a" stroke-width="1.9" stroke-dasharray="2.5 2.4"/>
<circle cx="872.0" cy="617.6" r="16.7" fill="#fff" stroke="#8cc858" stroke-width="1.6"/><g clip-path="url(#lc5)"><rect x="854.0" y="616.6" width="36" height="20" fill="#0a0a0a"/><path d="M854.0,617 L854.5,614.8 L855.0,617 L855.5,615.2 L856.0,617 L856.5,614.3 L857.0,617 L857.5,615.0 L858.0,617 L858.5,615.3 L859.0,617 L859.5,614.3 L860.0,617 L860.5,612.7 L861.0,617 L861.5,613.1 L862.0,617 L862.5,613.2 L863.0,617 L863.5,614.8 L864.0,617 L864.5,613.9 L865.0,617 L865.5,614.7 L866.0,617 L866.5,615.0 L867.0,617 L867.5,615.2 L868.0,617 L868.5,614.9 L869.0,617 L869.5,612.7 L870.0,617 L870.5,613.0 L871.0,617 L871.5,613.1 L872.0,617 L872.5,613.1 L873.0,617 L873.5,614.9 L874.0,617 L874.5,614.6 L875.0,617 L875.5,613.6 L876.0,617 L876.5,613.3 L877.0,617 L877.5,612.9 L878.0,617 L878.5,612.9 L879.0,617 L879.5,615.2 L880.0,617 L880.5,613.7 L881.0,617 L881.5,613.5 L882.0,617 L882.5,614.0 L883.0,617 L883.5,615.0 L884.0,617 L884.5,614.1 L885.0,617 L885.5,615.2 L886.0,617 L886.5,612.7 L887.0,617 L887.5,612.9 L888.0,617 L888.5,613.9 L889.0,617 L889.5,614.6 L890.0,617 Z" fill="#0a0a0a"/></g>
<rect x="855.4" y="642.4" width="33" height="6.2" fill="#7ed321" stroke="#6cc11a" stroke-width="0.8"/><path d="M858,645.5 H886" stroke="#a6e25a" stroke-width="1.6" stroke-dasharray="1.6 0.8"/>
<circle cx="919.3" cy="616.6" r="16.3" fill="#fff" stroke="#0a0a0a" stroke-width="2.4"/><g clip-path="url(#lc6)"><rect x="901.3" y="622" width="36" height="14" fill="#5b9bd5"/><rect x="907.8" y="608.5" width="23" height="3.4" fill="#0a0a0a"/><rect x="910.8" y="611" width="2.6" height="11" fill="#0a0a0a"/><rect x="914.7" y="611" width="2.6" height="11" fill="#0a0a0a"/><rect x="918.0" y="611" width="2.6" height="11" fill="#0a0a0a"/><rect x="921.7" y="611" width="2.6" height="11" fill="#0a0a0a"/><rect x="925.3" y="611" width="2.6" height="11" fill="#0a0a0a"/><path d="M901.3,622.6 L910.3,622.6 L910.3,619 L907.8,612 L907.8,612 L905.3,619Z" fill="#0a0a0a"/><path d="M937.3,622.6 L928.3,622.6 L928.3,619 L930.8,612 L930.8,612 L933.3,619Z" fill="#0a0a0a"/></g>
<defs><radialGradient id="sun2" cx="972.0" cy="609" r="16" gradientUnits="userSpaceOnUse"><stop offset="0" stop-color="#fffdf0"/><stop offset="1" stop-color="#ecd9a0"/></radialGradient></defs><circle cx="967.0" cy="616.6" r="16.2" fill="url(#sun2)" stroke="#2a4a8a" stroke-width="2"/><g clip-path="url(#lc7)"><rect x="950.0" y="619.6" width="17" height="16" fill="#7aa84a"/><rect x="967.0" y="619.6" width="19" height="16" fill="#4a72b8"/><rect x="965.4" y="612" width="2.6" height="20" fill="#27306a"/><g stroke="#9acb6a" stroke-width="0.8" fill="none"><path d="M958.0,620 q1,-7 -1,-12"/><path d="M960.0,620 q1,-8 3,-13"/><path d="M962.0,620 q0,-6 3,-10"/><path d="M956.0,620 q-1,-5 -3,-8"/></g></g>
<rect x="955.5" y="626.8" width="23" height="7.2" fill="#27306a"/><text x="967.0" y="633" font-size="7" font-weight="bold" fill="#fff" text-anchor="middle" textLength="19" lengthAdjust="spacingAndGlyphs">CPRA</text>
</g></svg>
</body></html>
